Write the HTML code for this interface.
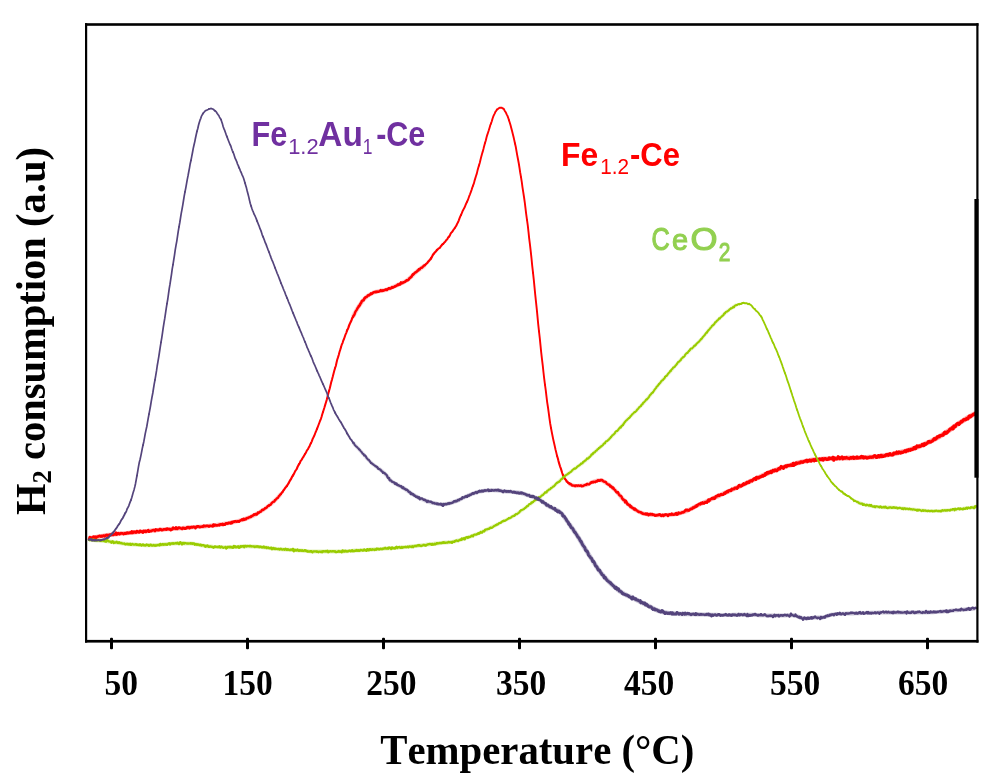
<!DOCTYPE html>
<html lang="en">
<head>
<meta charset="utf-8">
<title>H2-TPR profiles</title>
<style>
html,body{margin:0;padding:0;background:#fff;}
body{width:1000px;height:782px;overflow:hidden;}
svg{display:block;}
.ax{font-family:"Liberation Serif","DejaVu Serif",serif;font-weight:bold;fill:#000;font-kerning:none;}
.lb{font-family:"Liberation Sans","DejaVu Sans",sans-serif;font-weight:bold;}
.sb{font-weight:normal;}
</style>
</head>
<body>
<svg width="1000" height="782" viewBox="0 0 1000 782">
<rect x="0" y="0" width="1000" height="782" fill="#ffffff"/>
<g fill="none" stroke-linejoin="round" stroke-linecap="round">
<g stroke="#ff0000">
<polyline stroke-width="4.39" stroke-opacity="0.30" stroke-linecap="butt" points="89.0,538.5 91.0,538.1 93.0,537.7 95.0,537.3 97.0,536.9 99.0,536.5 101.0,536.2 103.0,535.8 105.0,535.5 107.0,535.2 109.0,534.9 111.0,534.7 113.0,534.4"/>
<polyline stroke-width="4.38" stroke-opacity="0.29" stroke-linecap="butt" points="113.0,534.4 115.0,534.2 117.0,534.0 119.0,533.8 121.0,533.6 123.0,533.4 125.0,533.2 127.0,533.1 129.0,532.9 131.0,532.7 133.0,532.5 135.0,532.3 137.0,532.1"/>
<polyline stroke-width="4.36" stroke-opacity="0.29" stroke-linecap="butt" points="137.0,532.1 139.0,531.9 141.0,531.7 143.0,531.5 145.0,531.3 147.0,531.1 149.0,530.9 151.0,530.7 153.0,530.5 155.0,530.3 157.0,530.1 159.0,529.9 161.0,529.7"/>
<polyline stroke-width="4.34" stroke-opacity="0.28" stroke-linecap="butt" points="161.0,529.7 163.0,529.6 165.0,529.4 167.0,529.2 169.0,529.1 171.0,528.9 173.0,528.8 175.0,528.6 177.0,528.4 179.0,528.3 181.0,528.1 183.0,528.0 185.0,527.8"/>
<polyline stroke-width="4.33" stroke-opacity="0.28" stroke-linecap="butt" points="185.0,527.8 187.0,527.7 189.0,527.5 191.0,527.4 193.0,527.2 195.0,527.1 197.0,526.9 199.0,526.8 201.0,526.6 203.0,526.5 205.0,526.3 207.0,526.1 209.0,525.9"/>
<polyline stroke-width="4.31" stroke-opacity="0.27" stroke-linecap="butt" points="209.0,525.9 211.0,525.7 213.0,525.5 215.0,525.3 217.0,525.0 219.0,524.7 221.0,524.4 223.0,524.1 225.0,523.7 227.0,523.4 229.0,523.0 231.0,522.6 233.0,522.2"/>
<polyline stroke-width="4.26" stroke-opacity="0.25" stroke-linecap="butt" points="233.0,522.2 235.0,521.8 237.0,521.3 239.0,520.8 241.0,520.3 243.0,519.7 245.0,519.1 247.0,518.3 249.0,517.5 251.0,516.7 253.0,515.7 255.0,514.8 257.0,513.7"/>
<polyline stroke-width="4.05" stroke-opacity="0.20" stroke-linecap="butt" points="257.0,513.7 259.0,512.6 261.0,511.3 263.0,510.0 265.0,508.6 267.0,507.1 269.0,505.6 271.0,503.9 273.0,502.2 275.0,500.3 277.0,498.3 279.0,496.1 281.0,493.7"/>
<polyline stroke-width="4.30" stroke-opacity="0.20" stroke-linecap="butt" points="353.0,316.8 355.0,312.8 357.0,309.2 359.0,306.0 361.0,303.1 363.0,300.4 365.0,298.2 367.0,296.5 369.0,295.0 371.0,293.8 373.0,292.8 375.0,292.0 377.0,291.5"/>
<polyline stroke-width="4.30" stroke-opacity="0.21" stroke-linecap="butt" points="377.0,291.5 379.0,291.1 381.0,290.8 383.0,290.5 385.0,290.1 387.0,289.5 389.0,288.7 391.0,287.9 393.0,287.0 395.0,286.1 397.0,285.2 399.0,284.3 401.0,283.4"/>
<polyline stroke-width="4.25" stroke-opacity="0.20" stroke-linecap="butt" points="401.0,283.4 403.0,282.5 405.0,281.5 407.0,280.3 409.0,278.8 411.0,276.9 413.0,274.9 415.0,273.0 417.0,271.3 419.0,269.8 421.0,268.3 423.0,266.8 425.0,265.0"/>
<polyline stroke-width="4.04" stroke-opacity="0.25" stroke-linecap="butt" points="569.0,483.4 571.0,484.7 573.0,485.4 575.0,485.9 577.0,485.9 579.0,485.8 581.0,485.7 583.0,485.5 585.0,485.3 587.0,484.7 589.0,483.8 591.0,482.7 593.0,481.9"/>
<polyline stroke-width="4.11" stroke-opacity="0.26" stroke-linecap="butt" points="593.0,481.9 595.0,481.2 597.0,480.6 599.0,480.2 601.0,480.2 603.0,481.0 605.0,482.2 607.0,483.5 609.0,484.9 611.0,486.4 613.0,488.2 615.0,490.1 617.0,492.1"/>
<polyline stroke-width="4.16" stroke-opacity="0.28" stroke-linecap="butt" points="617.0,492.1 619.0,494.4 621.0,496.8 623.0,499.2 625.0,501.3 627.0,503.2 629.0,505.0 631.0,506.8 633.0,508.3 635.0,509.6 637.0,510.7 639.0,511.8 641.0,512.7"/>
<polyline stroke-width="4.21" stroke-opacity="0.30" stroke-linecap="butt" points="641.0,512.7 643.0,513.5 645.0,514.0 647.0,514.2 649.0,514.5 651.0,514.7 653.0,514.9 655.0,515.0 657.0,515.1 659.0,515.2 661.0,515.2 663.0,515.2 665.0,515.1"/>
<polyline stroke-width="4.25" stroke-opacity="0.31" stroke-linecap="butt" points="665.0,515.1 667.0,515.0 669.0,514.8 671.0,514.7 673.0,514.5 675.0,514.2 677.0,513.8 679.0,513.4 681.0,512.8 683.0,512.2 685.0,511.6 687.0,510.9 689.0,509.9"/>
<polyline stroke-width="4.31" stroke-opacity="0.33" stroke-linecap="butt" points="689.0,509.9 691.0,508.9 693.0,507.8 695.0,506.6 697.0,505.6 699.0,504.6 701.0,503.8 703.0,502.9 705.0,502.0 707.0,501.2 709.0,500.3 711.0,499.4 713.0,498.5"/>
<polyline stroke-width="4.47" stroke-opacity="0.33" stroke-linecap="butt" points="713.0,498.5 715.0,497.6 717.0,496.6 719.0,495.7 721.0,494.7 723.0,493.8 725.0,492.9 727.0,492.0 729.0,491.1 731.0,490.2 733.0,489.3 735.0,488.4 737.0,487.5"/>
<polyline stroke-width="4.63" stroke-opacity="0.34" stroke-linecap="butt" points="737.0,487.5 739.0,486.6 741.0,485.7 743.0,484.7 745.0,483.8 747.0,482.8 749.0,481.9 751.0,480.9 753.0,480.0 755.0,479.0 757.0,478.1 759.0,477.2 761.0,476.2"/>
<polyline stroke-width="4.71" stroke-opacity="0.34" stroke-linecap="butt" points="761.0,476.2 763.0,475.3 765.0,474.4 767.0,473.5 769.0,472.7 771.0,471.8 773.0,471.1 775.0,470.3 777.0,469.6 779.0,468.8 781.0,468.1 783.0,467.5 785.0,466.8"/>
<polyline stroke-width="4.73" stroke-opacity="0.34" stroke-linecap="butt" points="785.0,466.8 787.0,466.1 789.0,465.5 791.0,464.9 793.0,464.2 795.0,463.7 797.0,463.1 799.0,462.6 801.0,462.1 803.0,461.7 805.0,461.3 807.0,460.9 809.0,460.5"/>
<polyline stroke-width="4.76" stroke-opacity="0.34" stroke-linecap="butt" points="809.0,460.5 811.0,460.2 813.0,459.9 815.0,459.7 817.0,459.5 819.0,459.3 821.0,459.2 823.0,459.0 825.0,458.9 827.0,458.8 829.0,458.7 831.0,458.6 833.0,458.5"/>
<polyline stroke-width="4.78" stroke-opacity="0.34" stroke-linecap="butt" points="833.0,458.5 835.0,458.4 837.0,458.3 839.0,458.3 841.0,458.2 843.0,458.2 845.0,458.1 847.0,458.0 849.0,458.0 851.0,457.9 853.0,457.8 855.0,457.8 857.0,457.7"/>
<polyline stroke-width="4.80" stroke-opacity="0.34" stroke-linecap="butt" points="857.0,457.7 859.0,457.6 861.0,457.6 863.0,457.5 865.0,457.4 867.0,457.3 869.0,457.2 871.0,457.1 873.0,457.0 875.0,456.8 877.0,456.6 879.0,456.4 881.0,456.1"/>
<polyline stroke-width="4.82" stroke-opacity="0.34" stroke-linecap="butt" points="881.0,456.1 883.0,455.7 885.0,455.4 887.0,455.0 889.0,454.7 891.0,454.4 893.0,454.0 895.0,453.6 897.0,453.2 899.0,452.7 901.0,452.2 903.0,451.7 905.0,451.2"/>
<polyline stroke-width="4.85" stroke-opacity="0.34" stroke-linecap="butt" points="905.0,451.2 907.0,450.6 909.0,450.0 911.0,449.4 913.0,448.7 915.0,448.0 917.0,447.3 919.0,446.5 921.0,445.7 923.0,444.8 925.0,443.9 927.0,443.0 929.0,442.1"/>
<polyline stroke-width="4.87" stroke-opacity="0.34" stroke-linecap="butt" points="929.0,442.1 931.0,441.1 933.0,440.1 935.0,439.0 937.0,437.9 939.0,436.8 941.0,435.6 943.0,434.4 945.0,433.2 947.0,431.8 949.0,430.4 951.0,429.0 953.0,427.5"/>
<polyline stroke-width="4.89" stroke-opacity="0.34" stroke-linecap="butt" points="953.0,427.5 955.0,426.1 957.0,424.6 959.0,423.3 961.0,422.0 963.0,420.7 965.0,419.4 967.0,418.2 969.0,417.0 971.0,415.8 973.0,414.7 975.0,413.6"/>
<polyline stroke-width="2.70" points="89.0,539.5 89.8,537.1 90.5,538.4 91.2,537.7 92.0,537.7 92.8,537.6 93.5,536.6 94.2,537.3 95.0,536.9"/>
<polyline stroke-width="2.69" points="95.0,536.9 95.8,538.8 96.5,537.1 97.2,536.7 98.0,536.6 98.8,536.2 99.5,535.9 100.2,536.1 101.0,536.4"/>
<polyline stroke-width="2.69" points="101.0,536.4 101.8,535.9 102.5,536.4 103.2,535.7 104.0,535.7 104.8,536.3 105.5,535.7 106.2,535.1 107.0,535.1"/>
<polyline stroke-width="2.69" points="107.0,535.1 107.8,535.4 108.5,536.0 109.2,534.8 110.0,534.7 110.8,535.2 111.5,534.2 112.2,534.4 113.0,534.9"/>
<polyline stroke-width="2.68" points="113.0,534.9 113.8,534.6 114.5,534.3 115.2,534.5 116.0,532.7 116.8,534.5 117.5,533.5 118.2,533.1 119.0,533.9"/>
<polyline stroke-width="2.68" points="119.0,533.9 119.8,534.1 120.5,533.4 121.2,533.1 122.0,533.5 122.8,533.4 123.5,534.1 124.2,533.7 125.0,533.3"/>
<polyline stroke-width="2.67" points="125.0,533.3 125.8,533.7 126.5,533.0 127.2,532.6 128.0,533.3 128.8,533.2 129.5,532.7 130.2,532.4 131.0,532.8"/>
<polyline stroke-width="2.67" points="131.0,532.8 131.8,531.4 132.5,532.9 133.2,532.7 134.0,531.6 134.8,532.4 135.5,531.8 136.2,532.6 137.0,531.1"/>
<polyline stroke-width="2.67" points="137.0,531.1 137.8,531.6 138.5,532.3 139.2,532.4 140.0,530.8 140.8,531.5 141.5,531.8 142.2,531.3 143.0,532.3"/>
<polyline stroke-width="2.66" points="143.0,532.3 143.8,530.8 144.5,531.5 145.2,530.8 146.0,531.9 146.8,531.1 147.5,530.9 148.2,530.1 149.0,531.7"/>
<polyline stroke-width="2.66" points="149.0,531.7 149.8,531.2 150.5,531.1 151.2,531.2 152.0,530.7 152.8,530.2 153.5,530.0 154.2,530.0 155.0,530.9"/>
<polyline stroke-width="2.65" points="155.0,530.9 155.8,529.5 156.5,529.9 157.2,529.9 158.0,530.1 158.8,530.2 159.5,529.3 160.2,529.0 161.0,529.7"/>
<polyline stroke-width="2.65" points="161.0,529.7 161.8,530.2 162.5,530.0 163.2,529.6 164.0,529.3 164.8,529.5 165.5,529.2 166.2,529.7 167.0,528.8"/>
<polyline stroke-width="2.65" points="167.0,528.8 167.8,529.2 168.5,529.1 169.2,529.3 170.0,529.1 170.8,530.1 171.5,529.6 172.2,529.5 173.0,527.8"/>
<polyline stroke-width="2.64" points="173.0,527.8 173.8,528.5 174.5,528.3 175.2,528.8 176.0,527.4 176.8,529.0 177.5,528.9 178.2,527.7 179.0,527.8"/>
<polyline stroke-width="2.64" points="179.0,527.8 179.8,527.9 180.5,528.2 181.2,528.4 182.0,529.0 182.8,527.9 183.5,528.3 184.2,528.0 185.0,528.6"/>
<polyline stroke-width="2.63" points="185.0,528.6 185.8,528.1 186.5,528.3 187.2,527.1 188.0,527.5 188.8,527.2 189.5,528.2 190.2,527.7 191.0,527.2"/>
<polyline stroke-width="2.63" points="191.0,527.2 191.8,527.1 192.5,527.5 193.2,526.9 194.0,526.7 194.8,527.3 195.5,528.2 196.2,526.9 197.0,526.7"/>
<polyline stroke-width="2.63" points="197.0,526.7 197.8,526.3 198.5,526.2 199.2,527.0 200.0,527.1 200.8,526.7 201.5,526.8 202.2,526.6 203.0,526.5"/>
<polyline stroke-width="2.62" points="203.0,526.5 203.8,525.7 204.5,526.1 205.2,526.3 206.0,525.9 206.8,525.9 207.5,525.7 208.2,525.9 209.0,526.3"/>
<polyline stroke-width="2.62" points="209.0,526.3 209.8,525.7 210.5,525.7 211.2,526.1 212.0,525.9 212.8,526.3 213.5,524.5 214.2,525.7 215.0,525.0"/>
<polyline stroke-width="2.61" points="215.0,525.0 215.8,525.2 216.5,525.4 217.2,525.4 218.0,525.3 218.8,524.8 219.5,525.3 220.2,524.4 221.0,524.3"/>
<polyline stroke-width="2.61" points="221.0,524.3 221.8,524.6 222.5,523.9 223.2,525.0 224.0,524.4 224.8,524.7 225.5,523.6 226.2,523.3 227.0,523.4"/>
<polyline stroke-width="2.61" points="227.0,523.4 227.8,523.6 228.5,522.8 229.2,523.1 230.0,522.8 230.8,523.4 231.5,522.2 232.2,522.8 233.0,521.9"/>
<polyline stroke-width="2.60" points="233.0,521.9 233.8,521.6 234.5,521.6 235.2,521.2 236.0,521.6 236.8,521.8 237.5,521.3 238.2,521.3 239.0,521.5"/>
<polyline stroke-width="2.58" points="239.0,521.5 239.8,520.7 240.5,520.5 241.2,520.1 242.0,519.3 242.8,520.1 243.5,518.8 244.2,519.6 245.0,519.0"/>
<polyline stroke-width="2.53" points="245.0,519.0 245.8,519.3 246.5,518.5 247.2,517.9 248.0,518.1 248.8,517.4 249.5,517.2 250.2,517.0 251.0,516.6"/>
<polyline stroke-width="2.48" points="251.0,516.6 251.8,516.2 252.5,515.6 253.2,515.5 254.0,514.4 254.8,514.8 255.5,514.0 256.2,514.5 257.0,514.2"/>
<polyline stroke-width="2.43" points="257.0,514.2 257.8,512.6 258.5,512.9 259.2,512.4 260.0,511.6 260.8,511.7 261.5,510.8 262.2,509.8 263.0,509.9"/>
<polyline stroke-width="2.38" points="263.0,509.9 263.8,509.4 264.5,509.0 265.2,508.0 266.0,508.0 266.8,507.5 267.5,506.3 268.2,505.9 269.0,505.5"/>
<polyline stroke-width="2.33" points="269.0,505.5 269.8,504.8 270.5,504.9 271.2,503.8 272.0,502.7 272.8,502.1 273.5,501.7 274.2,501.7 275.0,500.2"/>
<polyline stroke-width="2.27" points="275.0,500.2 275.8,499.6 276.5,498.9 277.2,498.0 278.0,497.8 278.8,496.2 279.5,495.7 280.2,494.6 281.0,493.9"/>
<polyline stroke-width="2.22" points="281.0,493.9 281.8,492.4 282.5,492.3 283.2,490.8 284.0,489.8 284.8,488.5 285.5,487.6 286.2,486.8 287.0,485.8"/>
<polyline stroke-width="2.17" points="287.0,485.8 287.8,484.5 288.5,483.4 289.2,482.0 290.0,480.5 290.8,479.4 291.5,478.0 292.2,476.6 293.0,475.4"/>
<polyline stroke-width="2.12" points="293.0,475.4 293.8,474.2 294.5,472.6 295.2,471.1 296.0,470.0 296.8,468.8 297.5,467.0 298.2,465.6 299.0,464.2"/>
<polyline stroke-width="2.07" points="299.0,464.2 299.8,463.1 300.5,461.2 301.2,460.3 302.0,459.2 302.8,457.6 303.5,456.8 304.2,455.4 305.0,454.0"/>
<polyline stroke-width="2.02" points="305.0,454.0 305.8,452.9 306.5,451.3 307.2,450.1 308.0,449.2 308.8,447.3 309.5,446.3 310.2,444.5 311.0,443.1"/>
<polyline stroke-width="2.00" points="311.0,443.1 311.8,441.3 312.5,439.3 313.2,437.9 314.0,436.3 314.8,434.3 315.5,432.5 316.2,430.9 317.0,428.9"/>
<polyline stroke-width="2.00" points="317.0,428.9 317.8,426.8 318.5,425.0 319.2,423.2 320.0,421.0 320.8,419.1 321.5,417.0 322.2,414.5 323.0,412.0"/>
<polyline stroke-width="2.00" points="323.0,412.0 323.8,409.5 324.5,407.3 325.2,404.9 326.0,402.2 326.8,399.6 327.5,396.7 328.2,394.1 329.0,391.1"/>
<polyline stroke-width="2.00" points="329.0,391.1 329.8,388.3 330.5,385.2 331.2,382.3 332.0,379.6 332.8,376.6 333.5,373.7 334.2,371.1 335.0,368.2"/>
<polyline stroke-width="2.00" points="335.0,368.2 335.8,366.0 336.5,362.8 337.2,359.8 338.0,357.4 338.8,354.7 339.5,352.0 340.2,349.9 341.0,347.2"/>
<polyline stroke-width="2.00" points="341.0,347.2 341.8,344.5 342.5,343.1 343.2,340.7 344.0,339.0 344.8,336.6 345.5,334.5 346.2,333.1 347.0,330.6"/>
<polyline stroke-width="2.20" points="347.0,330.6 347.8,329.0 348.5,327.4 349.2,325.2 350.0,323.4 350.8,321.7 351.5,320.2 352.2,318.1 353.0,316.9"/>
<polyline stroke-width="2.44" points="353.0,316.9 353.8,315.4 354.5,314.5 355.2,312.2 356.0,310.7 356.8,309.8 357.5,308.2 358.2,307.2 359.0,306.0"/>
<polyline stroke-width="2.60" points="359.0,306.0 359.8,305.3 360.5,303.6 361.2,302.7 362.0,300.8 362.8,300.4 363.5,300.4 364.2,298.7 365.0,297.9"/>
<polyline stroke-width="2.60" points="365.0,297.9 365.8,297.0 366.5,297.0 367.2,296.3 368.0,295.3 368.8,295.4 369.5,294.8 370.2,294.5 371.0,293.6"/>
<polyline stroke-width="2.60" points="371.0,293.6 371.8,294.0 372.5,293.2 373.2,292.6 374.0,292.2 374.8,292.0 375.5,292.2 376.2,291.6 377.0,291.9"/>
<polyline stroke-width="2.60" points="377.0,291.9 377.8,291.6 378.5,291.7 379.2,291.4 380.0,291.0 380.8,290.2 381.5,290.9 382.2,290.9 383.0,290.5"/>
<polyline stroke-width="2.60" points="383.0,290.5 383.8,290.5 384.5,290.0 385.2,289.9 386.0,289.4 386.8,290.0 387.5,289.3 388.2,288.8 389.0,288.3"/>
<polyline stroke-width="2.60" points="389.0,288.3 389.8,288.4 390.5,288.6 391.2,288.0 392.0,287.2 392.8,287.6 393.5,287.3 394.2,286.8 395.0,286.4"/>
<polyline stroke-width="2.60" points="395.0,286.4 395.8,286.1 396.5,285.6 397.2,285.3 398.0,284.4 398.8,284.9 399.5,284.1 400.2,284.4 401.0,282.7"/>
<polyline stroke-width="2.60" points="401.0,282.7 401.8,283.3 402.5,283.1 403.2,282.3 404.0,282.2 404.8,281.9 405.5,281.4 406.2,280.6 407.0,280.3"/>
<polyline stroke-width="2.60" points="407.0,280.3 407.8,280.2 408.5,279.7 409.2,278.6 410.0,277.9 410.8,277.2 411.5,276.8 412.2,275.3 413.0,274.5"/>
<polyline stroke-width="2.50" points="413.0,274.5 413.8,274.2 414.5,273.1 415.2,272.6 416.0,272.1 416.8,271.6 417.5,270.6 418.2,270.6 419.0,269.2"/>
<polyline stroke-width="2.40" points="419.0,269.2 419.8,269.4 420.5,268.2 421.2,267.8 422.0,267.7 422.8,266.8 423.5,266.1 424.2,265.6 425.0,265.1"/>
<polyline stroke-width="2.30" points="425.0,265.1 425.8,264.3 426.5,263.6 427.2,263.1 428.0,261.9 428.8,261.1 429.5,260.2 430.2,259.5 431.0,258.3"/>
<polyline stroke-width="2.20" points="431.0,258.3 431.8,257.1 432.5,255.6 433.2,254.4 434.0,253.6 434.8,252.4 435.5,251.8 436.2,251.0 437.0,249.9"/>
<polyline stroke-width="2.10" points="437.0,249.9 437.8,249.3 438.5,248.6 439.2,248.2 440.0,247.6 440.8,246.3 441.5,245.6 442.2,244.4 443.0,244.1"/>
<polyline stroke-width="2.06" points="443.0,244.1 443.8,243.3 444.5,242.2 445.2,241.8 446.0,240.4 446.8,239.7 447.5,238.8 448.2,237.4 449.0,236.7"/>
<polyline stroke-width="2.02" points="449.0,236.7 449.8,235.6 450.5,233.9 451.2,232.8 452.0,232.1 452.8,230.9 453.5,229.7 454.2,228.8 455.0,227.7"/>
<polyline stroke-width="1.98" points="455.0,227.7 455.8,226.5 456.5,225.4 457.2,223.7 458.0,222.3 458.8,220.3 459.5,218.3 460.2,216.6 461.0,215.0"/>
<polyline stroke-width="1.94" points="461.0,215.0 461.8,213.2 462.5,211.3 463.2,210.1 464.0,208.4 464.8,207.0 465.5,205.1 466.2,203.5 467.0,201.8"/>
<polyline stroke-width="1.90" points="467.0,201.8 467.8,200.3 468.5,198.3 469.2,196.2 470.0,194.3 470.8,192.1 471.5,190.1 472.2,187.9 473.0,185.7"/>
<polyline stroke-width="1.90" points="473.0,185.7 473.8,183.7 474.5,180.9 475.2,178.6 476.0,176.0 476.8,173.6 477.5,170.6 478.2,168.0 479.0,165.4"/>
<polyline stroke-width="1.90" points="479.0,165.4 479.8,162.8 480.5,159.8 481.2,156.9 482.0,154.0 482.8,151.4 483.5,148.8 484.2,145.9 485.0,143.1"/>
<polyline stroke-width="1.90" points="485.0,143.1 485.8,140.4 486.5,137.6 487.2,135.1 488.0,132.7 488.8,130.3 489.5,127.9 490.2,125.4 491.0,123.5"/>
<polyline stroke-width="1.90" points="491.0,123.5 491.8,121.3 492.5,118.7 493.2,116.7 494.0,114.9 494.8,113.4 495.5,111.6 496.2,110.8 497.0,109.5"/>
<polyline stroke-width="1.90" points="497.0,109.5 497.8,109.1 498.5,108.4 499.2,107.9 500.0,107.7 500.8,107.7 501.5,107.6 502.2,108.1 503.0,108.5"/>
<polyline stroke-width="1.90" points="503.0,108.5 503.8,108.9 504.5,110.4 505.2,111.5 506.0,112.8 506.8,114.6 507.5,115.9 508.2,117.8 509.0,120.3"/>
<polyline stroke-width="1.90" points="509.0,120.3 509.8,122.7 510.5,125.0 511.2,127.7 512.0,130.8 512.8,134.0 513.5,136.7 514.2,139.9 515.0,143.5"/>
<polyline stroke-width="1.90" points="515.0,143.5 515.8,147.0 516.5,151.1 517.2,155.1 518.0,159.2 518.8,163.5 519.5,167.8 520.2,172.5 521.0,177.1"/>
<polyline stroke-width="1.90" points="521.0,177.1 521.8,182.2 522.5,187.3 523.2,191.9 524.0,197.0 524.8,202.6 525.5,208.3 526.2,214.1 527.0,219.9"/>
<polyline stroke-width="1.90" points="527.0,219.9 527.8,225.7 528.5,231.9 529.2,238.6 530.0,244.8 530.8,251.8 531.5,258.4 532.2,265.6 533.0,272.7"/>
<polyline stroke-width="1.90" points="533.0,272.7 533.8,279.9 534.5,287.2 535.2,294.3 536.0,301.9 536.8,309.3 537.5,316.7 538.2,324.2 539.0,331.3"/>
<polyline stroke-width="1.90" points="539.0,331.3 539.8,338.4 540.5,345.4 541.2,352.4 542.0,359.4 542.8,365.8 543.5,372.5 544.2,378.7 545.0,384.8"/>
<polyline stroke-width="1.90" points="545.0,384.8 545.8,390.6 546.5,396.6 547.2,402.3 548.0,407.5 548.8,413.3 549.5,418.7 550.2,423.5 551.0,428.0"/>
<polyline stroke-width="1.90" points="551.0,428.0 551.8,432.2 552.5,435.8 553.2,439.2 554.0,442.8 554.8,446.2 555.5,449.5 556.2,452.3 557.0,455.7"/>
<polyline stroke-width="2.06" points="557.0,455.7 557.8,458.3 558.5,461.1 559.2,463.6 560.0,466.3 560.8,468.4 561.5,470.6 562.2,473.0 563.0,475.1"/>
<polyline stroke-width="2.30" points="563.0,475.1 563.8,476.2 564.5,478.2 565.2,479.1 566.0,480.1 566.8,481.7 567.5,481.7 568.2,483.1 569.0,483.2"/>
<polyline stroke-width="2.32" points="569.0,483.2 569.8,484.1 570.5,483.9 571.2,484.5 572.0,485.5 572.8,485.4 573.5,485.6 574.2,485.6 575.0,486.0"/>
<polyline stroke-width="2.34" points="575.0,486.0 575.8,485.3 576.5,485.4 577.2,485.8 578.0,485.5 578.8,485.5 579.5,485.8 580.2,485.7 581.0,485.6"/>
<polyline stroke-width="2.35" points="581.0,485.6 581.8,486.3 582.5,486.0 583.2,486.0 584.0,485.4 584.8,485.1 585.5,484.6 586.2,484.9 587.0,483.9"/>
<polyline stroke-width="2.37" points="587.0,483.9 587.8,484.2 588.5,484.4 589.2,484.3 590.0,483.6 590.8,482.5 591.5,482.7 592.2,481.9 593.0,482.3"/>
<polyline stroke-width="2.39" points="593.0,482.3 593.8,481.6 594.5,481.8 595.2,482.2 596.0,481.3 596.8,481.6 597.5,480.5 598.2,480.1 599.0,480.7"/>
<polyline stroke-width="2.40" points="599.0,480.7 599.8,480.9 600.5,479.9 601.2,480.3 602.0,479.9 602.8,480.7 603.5,481.6 604.2,481.6 605.0,481.9"/>
<polyline stroke-width="2.42" points="605.0,481.9 605.8,482.0 606.5,483.3 607.2,484.0 608.0,484.4 608.8,484.8 609.5,484.7 610.2,486.6 611.0,486.4"/>
<polyline stroke-width="2.43" points="611.0,486.4 611.8,487.0 612.5,488.1 613.2,487.5 614.0,489.1 614.8,489.8 615.5,490.8 616.2,492.0 617.0,492.3"/>
<polyline stroke-width="2.44" points="617.0,492.3 617.8,492.1 618.5,493.6 619.2,494.8 620.0,495.6 620.8,495.9 621.5,496.6 622.2,498.5 623.0,499.3"/>
<polyline stroke-width="2.45" points="623.0,499.3 623.8,500.0 624.5,500.0 625.2,502.4 626.0,500.9 626.8,502.8 627.5,504.6 628.2,504.3 629.0,505.2"/>
<polyline stroke-width="2.46" points="629.0,505.2 629.8,505.1 630.5,507.0 631.2,506.4 632.0,507.7 632.8,508.2 633.5,508.1 634.2,509.6 635.0,508.9"/>
<polyline stroke-width="2.48" points="635.0,508.9 635.8,509.7 636.5,510.4 637.2,510.7 638.0,511.5 638.8,512.1 639.5,511.9 640.2,512.1 641.0,512.5"/>
<polyline stroke-width="2.49" points="641.0,512.5 641.8,512.9 642.5,513.7 643.2,513.5 644.0,514.0 644.8,513.9 645.5,513.6 646.2,514.6 647.0,513.7"/>
<polyline stroke-width="2.50" points="647.0,513.7 647.8,514.3 648.5,515.2 649.2,514.0 650.0,514.6 650.8,513.9 651.5,514.5 652.2,514.1 653.0,514.7"/>
<polyline stroke-width="2.51" points="653.0,514.7 653.8,514.7 654.5,515.1 655.2,515.8 656.0,515.2 656.8,515.5 657.5,515.1 658.2,515.1 659.0,514.8"/>
<polyline stroke-width="2.52" points="659.0,514.8 659.8,514.3 660.5,515.2 661.2,516.0 662.0,515.4 662.8,514.9 663.5,516.0 664.2,514.9 665.0,514.8"/>
<polyline stroke-width="2.54" points="665.0,514.8 665.8,514.4 666.5,514.5 667.2,514.8 668.0,515.9 668.8,514.7 669.5,514.3 670.2,514.4 671.0,514.5"/>
<polyline stroke-width="2.55" points="671.0,514.5 671.8,513.7 672.5,514.6 673.2,514.8 674.0,514.5 674.8,514.6 675.5,513.5 676.2,513.1 677.0,514.5"/>
<polyline stroke-width="2.56" points="677.0,514.5 677.8,514.3 678.5,512.7 679.2,513.4 680.0,513.1 680.8,513.2 681.5,512.8 682.2,512.2 683.0,512.3"/>
<polyline stroke-width="2.57" points="683.0,512.3 683.8,512.1 684.5,511.7 685.2,510.5 686.0,509.7 686.8,510.5 687.5,509.8 688.2,510.4 689.0,510.3"/>
<polyline stroke-width="2.58" points="689.0,510.3 689.8,509.7 690.5,509.0 691.2,508.8 692.0,509.0 692.8,507.5 693.5,508.0 694.2,507.4 695.0,506.8"/>
<polyline stroke-width="2.60" points="695.0,506.8 695.8,507.0 696.5,505.4 697.2,506.0 698.0,504.6 698.8,504.3 699.5,503.8 700.2,504.3 701.0,503.2"/>
<polyline stroke-width="2.63" points="701.0,503.2 701.8,503.5 702.5,502.5 703.2,503.4 704.0,503.5 704.8,502.3 705.5,502.7 706.2,501.8 707.0,502.4"/>
<polyline stroke-width="2.67" points="707.0,502.4 707.8,500.9 708.5,499.7 709.2,501.0 710.0,499.8 710.8,499.0 711.5,498.8 712.2,498.0 713.0,498.4"/>
<polyline stroke-width="2.71" points="713.0,498.4 713.8,497.6 714.5,498.6 715.2,497.8 716.0,496.2 716.8,495.9 717.5,496.1 718.2,495.0 719.0,495.6"/>
<polyline stroke-width="2.75" points="719.0,495.6 719.8,495.3 720.5,494.6 721.2,494.3 722.0,494.6 722.8,494.7 723.5,494.4 724.2,493.2 725.0,493.4"/>
<polyline stroke-width="2.79" points="725.0,493.4 725.8,492.1 726.5,492.4 727.2,491.3 728.0,491.9 728.8,490.5 729.5,490.3 730.2,490.5 731.0,490.5"/>
<polyline stroke-width="2.83" points="731.0,490.5 731.8,489.0 732.5,489.2 733.2,489.2 734.0,489.0 734.8,488.0 735.5,488.2 736.2,487.7 737.0,488.3"/>
<polyline stroke-width="2.87" points="737.0,488.3 737.8,487.5 738.5,486.1 739.2,485.2 740.0,486.2 740.8,486.4 741.5,485.5 742.2,485.6 743.0,484.5"/>
<polyline stroke-width="2.91" points="743.0,484.5 743.8,483.6 744.5,484.4 745.2,483.7 746.0,483.7 746.8,482.2 747.5,482.7 748.2,481.9 749.0,482.3"/>
<polyline stroke-width="2.95" points="749.0,482.3 749.8,481.2 750.5,480.8 751.2,480.5 752.0,481.1 752.8,480.1 753.5,479.3 754.2,478.8 755.0,478.4"/>
<polyline stroke-width="2.99" points="755.0,478.4 755.8,479.5 756.5,477.3 757.2,477.5 758.0,478.0 758.8,477.9 759.5,476.9 760.2,477.0 761.0,476.7"/>
<polyline stroke-width="3.00" points="761.0,476.7 761.8,476.4 762.5,475.6 763.2,476.1 764.0,475.0 764.8,475.4 765.5,473.6 766.2,474.4 767.0,472.8"/>
<polyline stroke-width="3.01" points="767.0,472.8 767.8,472.4 768.5,473.2 769.2,472.1 770.0,472.5 770.8,471.4 771.5,472.6 772.2,471.4 773.0,470.4"/>
<polyline stroke-width="3.01" points="773.0,470.4 773.8,470.9 774.5,471.0 775.2,469.8 776.0,470.2 776.8,470.8 777.5,469.9 778.2,469.1 779.0,468.5"/>
<polyline stroke-width="3.02" points="779.0,468.5 779.8,468.9 780.5,467.5 781.2,466.4 782.0,467.4 782.8,467.0 783.5,468.3 784.2,467.1 785.0,466.3"/>
<polyline stroke-width="3.03" points="785.0,466.3 785.8,465.9 786.5,466.6 787.2,465.6 788.0,465.5 788.8,465.6 789.5,465.4 790.2,465.2 791.0,465.0"/>
<polyline stroke-width="3.03" points="791.0,465.0 791.8,465.4 792.5,465.4 793.2,463.3 794.0,465.4 794.8,463.8 795.5,464.3 796.2,462.9 797.0,463.3"/>
<polyline stroke-width="3.04" points="797.0,463.3 797.8,463.1 798.5,462.8 799.2,463.1 800.0,462.8 800.8,461.7 801.5,462.0 802.2,462.3 803.0,462.1"/>
<polyline stroke-width="3.04" points="803.0,462.1 803.8,461.4 804.5,461.3 805.2,461.2 806.0,460.5 806.8,460.3 807.5,461.7 808.2,460.5 809.0,460.6"/>
<polyline stroke-width="3.05" points="809.0,460.6 809.8,460.0 810.5,461.1 811.2,461.2 812.0,460.0 812.8,460.3 813.5,459.5 814.2,460.8 815.0,460.2"/>
<polyline stroke-width="3.05" points="815.0,460.2 815.8,459.2 816.5,460.3 817.2,459.7 818.0,459.7 818.8,459.6 819.5,458.9 820.2,459.0 821.0,459.6"/>
<polyline stroke-width="3.06" points="821.0,459.6 821.8,459.1 822.5,458.6 823.2,460.2 824.0,458.9 824.8,458.6 825.5,458.5 826.2,459.3 827.0,459.4"/>
<polyline stroke-width="3.06" points="827.0,459.4 827.8,458.9 828.5,459.2 829.2,457.8 830.0,458.4 830.8,458.4 831.5,458.6 832.2,458.8 833.0,457.3"/>
<polyline stroke-width="3.07" points="833.0,457.3 833.8,460.3 834.5,458.0 835.2,458.6 836.0,458.9 836.8,458.9 837.5,458.5 838.2,456.6 839.0,457.7"/>
<polyline stroke-width="3.08" points="839.0,457.7 839.8,458.7 840.5,457.7 841.2,457.6 842.0,456.9 842.8,458.9 843.5,458.5 844.2,457.6 845.0,458.0"/>
<polyline stroke-width="3.08" points="845.0,458.0 845.8,458.0 846.5,457.4 847.2,457.9 848.0,458.2 848.8,458.3 849.5,458.7 850.2,458.0 851.0,457.7"/>
<polyline stroke-width="3.09" points="851.0,457.7 851.8,458.1 852.5,457.5 853.2,457.1 854.0,458.5 854.8,457.6 855.5,457.8 856.2,458.1 857.0,457.1"/>
<polyline stroke-width="3.09" points="857.0,457.1 857.8,458.1 858.5,457.9 859.2,457.6 860.0,457.8 860.8,457.2 861.5,456.3 862.2,457.4 863.0,457.0"/>
<polyline stroke-width="3.10" points="863.0,457.0 863.8,458.0 864.5,457.6 865.2,457.1 866.0,457.4 866.8,458.1 867.5,458.0 868.2,457.5 869.0,457.5"/>
<polyline stroke-width="3.10" points="869.0,457.5 869.8,457.0 870.5,457.1 871.2,457.4 872.0,457.0 872.8,457.2 873.5,456.3 874.2,455.9 875.0,455.9"/>
<polyline stroke-width="3.11" points="875.0,455.9 875.8,456.5 876.5,457.5 877.2,457.3 878.0,455.9 878.8,455.5 879.5,456.8 880.2,456.5 881.0,455.3"/>
<polyline stroke-width="3.11" points="881.0,455.3 881.8,456.6 882.5,455.9 883.2,456.5 884.0,455.8 884.8,456.0 885.5,455.5 886.2,454.6 887.0,454.9"/>
<polyline stroke-width="3.12" points="887.0,454.9 887.8,454.5 888.5,455.3 889.2,454.1 890.0,453.7 890.8,454.8 891.5,455.0 892.2,455.0 893.0,454.7"/>
<polyline stroke-width="3.13" points="893.0,454.7 893.8,453.0 894.5,453.3 895.2,453.3 896.0,453.4 896.8,452.0 897.5,453.1 898.2,453.1 899.0,452.2"/>
<polyline stroke-width="3.13" points="899.0,452.2 899.8,452.6 900.5,453.1 901.2,452.2 902.0,452.6 902.8,452.4 903.5,451.8 904.2,451.6 905.0,451.0"/>
<polyline stroke-width="3.14" points="905.0,451.0 905.8,451.7 906.5,450.5 907.2,450.1 908.0,450.7 908.8,449.7 909.5,450.1 910.2,450.3 911.0,449.5"/>
<polyline stroke-width="3.14" points="911.0,449.5 911.8,449.2 912.5,449.5 913.2,449.1 914.0,447.5 914.8,447.4 915.5,448.6 916.2,447.8 917.0,446.1"/>
<polyline stroke-width="3.15" points="917.0,446.1 917.8,446.2 918.5,446.7 919.2,445.8 920.0,446.4 920.8,445.8 921.5,445.8 922.2,444.5 923.0,445.2"/>
<polyline stroke-width="3.15" points="923.0,445.2 923.8,445.7 924.5,443.7 925.2,444.6 926.0,444.1 926.8,443.5 927.5,442.8 928.2,441.8 929.0,441.6"/>
<polyline stroke-width="3.16" points="929.0,441.6 929.8,442.2 930.5,442.0 931.2,441.7 932.0,441.2 932.8,440.8 933.5,439.6 934.2,438.7 935.0,439.2"/>
<polyline stroke-width="3.16" points="935.0,439.2 935.8,438.9 936.5,438.3 937.2,436.9 938.0,437.1 938.8,436.1 939.5,436.6 940.2,435.5 941.0,435.5"/>
<polyline stroke-width="3.17" points="941.0,435.5 941.8,435.4 942.5,434.8 943.2,435.1 944.0,433.2 944.8,432.1 945.5,433.4 946.2,433.2 947.0,432.7"/>
<polyline stroke-width="3.18" points="947.0,432.7 947.8,431.5 948.5,431.1 949.2,430.4 950.0,429.0 950.8,428.9 951.5,428.9 952.2,427.7 953.0,428.7"/>
<polyline stroke-width="3.18" points="953.0,428.7 953.8,426.1 954.5,426.2 955.2,426.6 956.0,425.0 956.8,424.1 957.5,423.5 958.2,423.3 959.0,424.2"/>
<polyline stroke-width="3.19" points="959.0,424.2 959.8,423.0 960.5,422.6 961.2,421.5 962.0,421.8 962.8,420.9 963.5,419.8 964.2,419.7 965.0,419.6"/>
<polyline stroke-width="3.19" points="965.0,419.6 965.8,419.7 966.5,418.5 967.2,418.4 968.0,418.8 968.8,416.7 969.5,416.0 970.2,416.9 971.0,416.1"/>
<polyline stroke-width="3.20" points="971.0,416.1 971.8,415.4 972.5,415.1 973.2,414.4 974.0,414.4 974.8,413.5 975.5,413.8 976.0,412.3"/>
</g>
<g stroke="#99cc00">
<polyline stroke-width="4.00" stroke-opacity="0.27" stroke-linecap="butt" points="89.0,539.8 91.0,539.9 93.0,540.0 95.0,540.2 97.0,540.4 99.0,540.5 101.0,540.7 103.0,540.9 105.0,541.1 107.0,541.3 109.0,541.5 111.0,541.7 113.0,542.0"/>
<polyline stroke-width="4.00" stroke-opacity="0.27" stroke-linecap="butt" points="113.0,542.0 115.0,542.3 117.0,542.6 119.0,543.0 121.0,543.3 123.0,543.6 125.0,543.8 127.0,544.1 129.0,544.2 131.0,544.3 133.0,544.5 135.0,544.6 137.0,544.7"/>
<polyline stroke-width="4.00" stroke-opacity="0.27" stroke-linecap="butt" points="137.0,544.7 139.0,544.9 141.0,545.0 143.0,545.1 145.0,545.2 147.0,545.2 149.0,545.3 151.0,545.3 153.0,545.3 155.0,545.3 157.0,545.1 159.0,545.0 161.0,544.8"/>
<polyline stroke-width="4.00" stroke-opacity="0.27" stroke-linecap="butt" points="161.0,544.8 163.0,544.6 165.0,544.3 167.0,544.1 169.0,543.9 171.0,543.7 173.0,543.5 175.0,543.4 177.0,543.3 179.0,543.3 181.0,543.3 183.0,543.4 185.0,543.4"/>
<polyline stroke-width="4.00" stroke-opacity="0.27" stroke-linecap="butt" points="185.0,543.4 187.0,543.5 189.0,543.6 191.0,543.6 193.0,543.8 195.0,544.1 197.0,544.4 199.0,544.8 201.0,545.2 203.0,545.6 205.0,545.9 207.0,546.2 209.0,546.5"/>
<polyline stroke-width="4.00" stroke-opacity="0.27" stroke-linecap="butt" points="209.0,546.5 211.0,546.6 213.0,546.8 215.0,546.9 217.0,547.0 219.0,547.1 221.0,547.2 223.0,547.2 225.0,547.3 227.0,547.3 229.0,547.3 231.0,547.2 233.0,547.1"/>
<polyline stroke-width="4.00" stroke-opacity="0.27" stroke-linecap="butt" points="233.0,547.1 235.0,547.0 237.0,546.9 239.0,546.7 241.0,546.6 243.0,546.5 245.0,546.4 247.0,546.3 249.0,546.3 251.0,546.4 253.0,546.5 255.0,546.6 257.0,546.8"/>
<polyline stroke-width="4.00" stroke-opacity="0.27" stroke-linecap="butt" points="257.0,546.8 259.0,547.0 261.0,547.1 263.0,547.3 265.0,547.6 267.0,547.8 269.0,548.1 271.0,548.3 273.0,548.6 275.0,548.8 277.0,549.0 279.0,549.2 281.0,549.3"/>
<polyline stroke-width="4.00" stroke-opacity="0.27" stroke-linecap="butt" points="281.0,549.3 283.0,549.4 285.0,549.6 287.0,549.7 289.0,549.8 291.0,549.9 293.0,550.0 295.0,550.1 297.0,550.2 299.0,550.4 301.0,550.5 303.0,550.7 305.0,550.9"/>
<polyline stroke-width="4.00" stroke-opacity="0.27" stroke-linecap="butt" points="305.0,550.9 307.0,551.1 309.0,551.3 311.0,551.4 313.0,551.5 315.0,551.6 317.0,551.6 319.0,551.6 321.0,551.6 323.0,551.6 325.0,551.6 327.0,551.6 329.0,551.6"/>
<polyline stroke-width="4.00" stroke-opacity="0.27" stroke-linecap="butt" points="329.0,551.6 331.0,551.6 333.0,551.6 335.0,551.6 337.0,551.6 339.0,551.5 341.0,551.5 343.0,551.4 345.0,551.3 347.0,551.2 349.0,551.0 351.0,550.9 353.0,550.8"/>
<polyline stroke-width="4.00" stroke-opacity="0.27" stroke-linecap="butt" points="353.0,550.8 355.0,550.6 357.0,550.5 359.0,550.4 361.0,550.2 363.0,550.1 365.0,550.0 367.0,549.9 369.0,549.7 371.0,549.6 373.0,549.5 375.0,549.3 377.0,549.2"/>
<polyline stroke-width="4.00" stroke-opacity="0.27" stroke-linecap="butt" points="377.0,549.2 379.0,549.0 381.0,548.9 383.0,548.8 385.0,548.6 387.0,548.5 389.0,548.3 391.0,548.2 393.0,548.0 395.0,547.9 397.0,547.7 399.0,547.6 401.0,547.4"/>
<polyline stroke-width="4.00" stroke-opacity="0.27" stroke-linecap="butt" points="401.0,547.4 403.0,547.2 405.0,547.1 407.0,546.9 409.0,546.7 411.0,546.5 413.0,546.3 415.0,546.1 417.0,545.9 419.0,545.6 421.0,545.4 423.0,545.1 425.0,544.9"/>
<polyline stroke-width="4.00" stroke-opacity="0.27" stroke-linecap="butt" points="425.0,544.9 427.0,544.6 429.0,544.4 431.0,544.1 433.0,543.9 435.0,543.6 437.0,543.4 439.0,543.2 441.0,543.0 443.0,542.8 445.0,542.6 447.0,542.4 449.0,542.2"/>
<polyline stroke-width="3.97" stroke-opacity="0.25" stroke-linecap="butt" points="449.0,542.2 451.0,541.9 453.0,541.6 455.0,541.2 457.0,540.7 459.0,540.2 461.0,539.6 463.0,539.0 465.0,538.4 467.0,537.7 469.0,537.0 471.0,536.3 473.0,535.6"/>
<polyline stroke-width="3.90" stroke-opacity="0.21" stroke-linecap="butt" points="473.0,535.6 475.0,534.8 477.0,534.0 479.0,533.2 481.0,532.3 483.0,531.4 485.0,530.5 487.0,529.6 489.0,528.6 491.0,527.6 493.0,526.6 495.0,525.6 497.0,524.5"/>
<polyline stroke-width="3.83" stroke-opacity="0.18" stroke-linecap="butt" points="497.0,524.5 499.0,523.5 501.0,522.4 503.0,521.4 505.0,520.4 507.0,519.4 509.0,518.4 511.0,517.3 513.0,516.2 515.0,515.0 517.0,513.7 519.0,512.4 521.0,511.0"/>
<polyline stroke-width="3.79" stroke-opacity="0.18" stroke-linecap="butt" points="521.0,511.0 523.0,509.5 525.0,508.0 527.0,506.5 529.0,505.0 531.0,503.6 533.0,502.1 535.0,500.6 537.0,499.1 539.0,497.6 541.0,496.1 543.0,494.5 545.0,493.0"/>
<polyline stroke-width="3.78" stroke-opacity="0.18" stroke-linecap="butt" points="545.0,493.0 547.0,491.4 549.0,489.8 551.0,488.2 553.0,486.6 555.0,484.9 557.0,483.1 559.0,481.3 561.0,479.5 563.0,477.8 565.0,476.1 567.0,474.5 569.0,473.0"/>
<polyline stroke-width="3.77" stroke-opacity="0.18" stroke-linecap="butt" points="569.0,473.0 571.0,471.5 573.0,470.1 575.0,468.6 577.0,467.1 579.0,465.6 581.0,464.2 583.0,462.6 585.0,461.0 587.0,459.3 589.0,457.4 591.0,455.5 593.0,453.7"/>
<polyline stroke-width="3.76" stroke-opacity="0.18" stroke-linecap="butt" points="593.0,453.7 595.0,451.8 597.0,450.0 599.0,448.2 601.0,446.5 603.0,444.7 605.0,442.9 607.0,441.0 609.0,439.1 611.0,437.2 613.0,435.2 615.0,433.2 617.0,431.1"/>
<polyline stroke-width="3.75" stroke-opacity="0.18" stroke-linecap="butt" points="617.0,431.1 619.0,429.0 621.0,426.7 623.0,424.4 625.0,422.1 627.0,419.8 629.0,417.7 631.0,415.7 633.0,413.8 635.0,411.8 637.0,409.9 639.0,407.8 641.0,405.7"/>
<polyline stroke-width="3.74" stroke-opacity="0.18" stroke-linecap="butt" points="641.0,405.7 643.0,403.5 645.0,401.3 647.0,399.0 649.0,396.7 651.0,394.3 653.0,391.9 655.0,389.3 657.0,386.7 659.0,384.2 661.0,381.9 663.0,379.6 665.0,377.4"/>
<polyline stroke-width="3.73" stroke-opacity="0.18" stroke-linecap="butt" points="665.0,377.4 667.0,375.2 669.0,373.0 671.0,370.7 673.0,368.4 675.0,366.1 677.0,363.9 679.0,361.6 681.0,359.4 683.0,357.3 685.0,355.2 687.0,353.1 689.0,351.1"/>
<polyline stroke-width="3.72" stroke-opacity="0.18" stroke-linecap="butt" points="689.0,351.1 691.0,349.1 693.0,347.3 695.0,345.4 697.0,343.5 699.0,341.6 701.0,339.4 703.0,337.1 705.0,334.6 707.0,332.1 709.0,329.6 711.0,327.3 713.0,325.1"/>
<polyline stroke-width="3.71" stroke-opacity="0.18" stroke-linecap="butt" points="713.0,325.1 715.0,323.0 717.0,320.9 719.0,319.0 721.0,317.0 723.0,315.1 725.0,313.2 727.0,311.5 729.0,309.8 731.0,308.4 733.0,307.0 735.0,305.7 737.0,304.6"/>
<polyline stroke-width="3.80" stroke-opacity="0.24" stroke-linecap="butt" points="857.0,501.9 859.0,502.8 861.0,503.6 863.0,504.1 865.0,504.7 867.0,505.2 869.0,505.6 871.0,506.0 873.0,506.4 875.0,506.7 877.0,506.9 879.0,507.1 881.0,507.2"/>
<polyline stroke-width="3.80" stroke-opacity="0.24" stroke-linecap="butt" points="881.0,507.2 883.0,507.3 885.0,507.3 887.0,507.4 889.0,507.5 891.0,507.5 893.0,507.6 895.0,507.7 897.0,507.9 899.0,508.1 901.0,508.3 903.0,508.5 905.0,508.7"/>
<polyline stroke-width="3.80" stroke-opacity="0.24" stroke-linecap="butt" points="905.0,508.7 907.0,508.9 909.0,509.1 911.0,509.3 913.0,509.5 915.0,509.7 917.0,509.9 919.0,510.1 921.0,510.3 923.0,510.4 925.0,510.6 927.0,510.8 929.0,510.9"/>
<polyline stroke-width="3.80" stroke-opacity="0.24" stroke-linecap="butt" points="929.0,510.9 931.0,511.0 933.0,511.0 935.0,511.0 937.0,510.9 939.0,510.9 941.0,510.8 943.0,510.6 945.0,510.4 947.0,510.3 949.0,510.1 951.0,509.9 953.0,509.7"/>
<polyline stroke-width="3.80" stroke-opacity="0.24" stroke-linecap="butt" points="953.0,509.7 955.0,509.5 957.0,509.3 959.0,509.1 961.0,508.9 963.0,508.7 965.0,508.4 967.0,508.2 969.0,507.9 971.0,507.7 973.0,507.4 975.0,507.1"/>
<polyline stroke-width="2.30" points="89.0,540.0 89.8,540.2 90.5,540.0 91.2,539.3 92.0,540.4 92.8,540.2 93.5,539.8 94.2,540.4 95.0,540.4"/>
<polyline stroke-width="2.30" points="95.0,540.4 95.8,540.4 96.5,540.3 97.2,540.6 98.0,540.1 98.8,540.4 99.5,540.3 100.2,540.9 101.0,540.7"/>
<polyline stroke-width="2.30" points="101.0,540.7 101.8,540.6 102.5,540.5 103.2,540.8 104.0,541.0 104.8,540.9 105.5,541.7 106.2,541.7 107.0,540.1"/>
<polyline stroke-width="2.30" points="107.0,540.1 107.8,540.5 108.5,541.4 109.2,541.3 110.0,541.7 110.8,541.8 111.5,542.7 112.2,541.4 113.0,541.8"/>
<polyline stroke-width="2.30" points="113.0,541.8 113.8,543.0 114.5,542.5 115.2,542.6 116.0,542.2 116.8,541.8 117.5,542.8 118.2,542.9 119.0,542.4"/>
<polyline stroke-width="2.30" points="119.0,542.4 119.8,542.8 120.5,543.2 121.2,542.9 122.0,543.4 122.8,543.6 123.5,543.7 124.2,543.5 125.0,544.1"/>
<polyline stroke-width="2.30" points="125.0,544.1 125.8,544.3 126.5,544.2 127.2,543.7 128.0,544.5 128.8,544.0 129.5,544.6 130.2,543.8 131.0,544.8"/>
<polyline stroke-width="2.30" points="131.0,544.8 131.8,544.4 132.5,543.9 133.2,544.4 134.0,544.6 134.8,544.7 135.5,544.2 136.2,544.2 137.0,544.8"/>
<polyline stroke-width="2.30" points="137.0,544.8 137.8,544.6 138.5,544.9 139.2,545.2 140.0,544.2 140.8,545.1 141.5,545.6 142.2,544.9 143.0,544.7"/>
<polyline stroke-width="2.30" points="143.0,544.7 143.8,545.4 144.5,545.2 145.2,545.6 146.0,545.0 146.8,544.5 147.5,545.2 148.2,545.0 149.0,545.6"/>
<polyline stroke-width="2.30" points="149.0,545.6 149.8,545.4 150.5,544.6 151.2,544.8 152.0,545.7 152.8,545.6 153.5,545.0 154.2,545.3 155.0,545.5"/>
<polyline stroke-width="2.30" points="155.0,545.5 155.8,545.4 156.5,545.6 157.2,545.2 158.0,545.0 158.8,544.9 159.5,545.4 160.2,543.9 161.0,544.7"/>
<polyline stroke-width="2.30" points="161.0,544.7 161.8,544.7 162.5,544.0 163.2,544.7 164.0,544.2 164.8,544.7 165.5,544.2 166.2,544.5 167.0,544.6"/>
<polyline stroke-width="2.30" points="167.0,544.6 167.8,544.2 168.5,543.5 169.2,543.2 170.0,544.5 170.8,543.6 171.5,543.3 172.2,543.6 173.0,543.4"/>
<polyline stroke-width="2.30" points="173.0,543.4 173.8,543.8 174.5,543.4 175.2,543.4 176.0,543.0 176.8,543.5 177.5,542.8 178.2,543.6 179.0,544.0"/>
<polyline stroke-width="2.30" points="179.0,544.0 179.8,542.6 180.5,542.2 181.2,543.6 182.0,544.5 182.8,542.9 183.5,542.8 184.2,543.7 185.0,543.0"/>
<polyline stroke-width="2.30" points="185.0,543.0 185.8,543.2 186.5,543.3 187.2,543.7 188.0,543.3 188.8,543.7 189.5,543.5 190.2,543.2 191.0,543.5"/>
<polyline stroke-width="2.30" points="191.0,543.5 191.8,543.3 192.5,543.8 193.2,543.3 194.0,543.4 194.8,544.7 195.5,544.1 196.2,544.2 197.0,544.6"/>
<polyline stroke-width="2.30" points="197.0,544.6 197.8,544.3 198.5,544.6 199.2,545.0 200.0,545.1 200.8,544.6 201.5,545.6 202.2,545.2 203.0,545.1"/>
<polyline stroke-width="2.30" points="203.0,545.1 203.8,545.3 204.5,545.7 205.2,546.7 206.0,545.6 206.8,546.3 207.5,545.4 208.2,546.4 209.0,546.9"/>
<polyline stroke-width="2.30" points="209.0,546.9 209.8,546.4 210.5,546.3 211.2,546.8 212.0,547.0 212.8,547.0 213.5,547.7 214.2,546.9 215.0,546.6"/>
<polyline stroke-width="2.30" points="215.0,546.6 215.8,546.9 216.5,546.9 217.2,547.0 218.0,547.0 218.8,547.1 219.5,546.3 220.2,547.5 221.0,546.9"/>
<polyline stroke-width="2.30" points="221.0,546.9 221.8,546.7 222.5,547.5 223.2,547.8 224.0,547.5 224.8,547.3 225.5,546.9 226.2,548.6 227.0,547.7"/>
<polyline stroke-width="2.30" points="227.0,547.7 227.8,546.8 228.5,546.9 229.2,547.3 230.0,546.6 230.8,547.3 231.5,547.0 232.2,547.7 233.0,547.6"/>
<polyline stroke-width="2.30" points="233.0,547.6 233.8,545.9 234.5,547.1 235.2,546.3 236.0,547.4 236.8,547.0 237.5,547.1 238.2,546.3 239.0,547.5"/>
<polyline stroke-width="2.30" points="239.0,547.5 239.8,547.6 240.5,546.1 241.2,546.7 242.0,546.2 242.8,546.5 243.5,545.9 244.2,547.2 245.0,545.9"/>
<polyline stroke-width="2.30" points="245.0,545.9 245.8,546.2 246.5,546.5 247.2,546.0 248.0,546.2 248.8,546.1 249.5,546.3 250.2,545.8 251.0,546.2"/>
<polyline stroke-width="2.30" points="251.0,546.2 251.8,546.3 252.5,546.3 253.2,546.5 254.0,546.4 254.8,547.0 255.5,546.5 256.2,546.7 257.0,546.5"/>
<polyline stroke-width="2.30" points="257.0,546.5 257.8,546.6 258.5,546.4 259.2,547.2 260.0,546.5 260.8,546.8 261.5,547.3 262.2,547.4 263.0,547.2"/>
<polyline stroke-width="2.30" points="263.0,547.2 263.8,546.5 264.5,547.7 265.2,547.7 266.0,547.0 266.8,548.1 267.5,547.6 268.2,547.5 269.0,548.1"/>
<polyline stroke-width="2.30" points="269.0,548.1 269.8,548.1 270.5,548.4 271.2,547.6 272.0,549.3 272.8,548.3 273.5,547.9 274.2,549.0 275.0,548.6"/>
<polyline stroke-width="2.30" points="275.0,548.6 275.8,549.0 276.5,548.8 277.2,549.0 278.0,549.2 278.8,548.8 279.5,549.5 280.2,549.0 281.0,548.9"/>
<polyline stroke-width="2.30" points="281.0,548.9 281.8,549.4 282.5,549.6 283.2,549.4 284.0,549.1 284.8,549.8 285.5,548.8 286.2,549.2 287.0,549.7"/>
<polyline stroke-width="2.30" points="287.0,549.7 287.8,549.1 288.5,549.8 289.2,549.8 290.0,550.2 290.8,549.5 291.5,549.6 292.2,550.1 293.0,548.9"/>
<polyline stroke-width="2.30" points="293.0,548.9 293.8,551.4 294.5,549.8 295.2,549.8 296.0,550.6 296.8,550.2 297.5,549.5 298.2,550.6 299.0,550.7"/>
<polyline stroke-width="2.30" points="299.0,550.7 299.8,550.2 300.5,550.4 301.2,550.8 302.0,550.2 302.8,550.9 303.5,550.9 304.2,550.5 305.0,550.3"/>
<polyline stroke-width="2.30" points="305.0,550.3 305.8,550.9 306.5,550.7 307.2,551.6 308.0,551.3 308.8,551.6 309.5,551.4 310.2,551.5 311.0,551.1"/>
<polyline stroke-width="2.30" points="311.0,551.1 311.8,551.8 312.5,552.3 313.2,551.4 314.0,551.3 314.8,551.5 315.5,551.4 316.2,551.3 317.0,551.7"/>
<polyline stroke-width="2.30" points="317.0,551.7 317.8,551.5 318.5,552.2 319.2,551.6 320.0,551.7 320.8,552.0 321.5,551.5 322.2,552.2 323.0,551.3"/>
<polyline stroke-width="2.30" points="323.0,551.3 323.8,551.2 324.5,551.4 325.2,551.5 326.0,551.0 326.8,551.6 327.5,550.8 328.2,552.2 329.0,551.6"/>
<polyline stroke-width="2.30" points="329.0,551.6 329.8,551.3 330.5,551.2 331.2,551.4 332.0,551.5 332.8,551.1 333.5,551.2 334.2,551.5 335.0,551.4"/>
<polyline stroke-width="2.30" points="335.0,551.4 335.8,552.0 336.5,552.1 337.2,551.6 338.0,551.8 338.8,550.9 339.5,551.8 340.2,551.5 341.0,551.7"/>
<polyline stroke-width="2.30" points="341.0,551.7 341.8,552.2 342.5,550.4 343.2,551.5 344.0,550.8 344.8,551.6 345.5,550.7 346.2,551.0 347.0,551.3"/>
<polyline stroke-width="2.30" points="347.0,551.3 347.8,551.4 348.5,551.1 349.2,550.7 350.0,550.7 350.8,551.3 351.5,550.9 352.2,550.1 353.0,551.1"/>
<polyline stroke-width="2.30" points="353.0,551.1 353.8,550.9 354.5,551.1 355.2,550.5 356.0,550.9 356.8,550.0 357.5,550.7 358.2,550.2 359.0,550.7"/>
<polyline stroke-width="2.30" points="359.0,550.7 359.8,550.8 360.5,549.9 361.2,550.2 362.0,550.2 362.8,550.7 363.5,550.4 364.2,549.5 365.0,550.2"/>
<polyline stroke-width="2.30" points="365.0,550.2 365.8,550.3 366.5,550.9 367.2,549.1 368.0,549.6 368.8,550.4 369.5,549.1 370.2,549.1 371.0,549.8"/>
<polyline stroke-width="2.30" points="371.0,549.8 371.8,550.0 372.5,549.2 373.2,549.7 374.0,549.5 374.8,550.0 375.5,549.3 376.2,549.7 377.0,548.8"/>
<polyline stroke-width="2.30" points="377.0,548.8 377.8,549.1 378.5,549.0 379.2,549.5 380.0,549.2 380.8,548.6 381.5,549.2 382.2,549.2 383.0,548.7"/>
<polyline stroke-width="2.30" points="383.0,548.7 383.8,548.6 384.5,548.6 385.2,547.8 386.0,548.6 386.8,548.6 387.5,548.0 388.2,548.7 389.0,547.7"/>
<polyline stroke-width="2.30" points="389.0,547.7 389.8,548.0 390.5,548.0 391.2,549.1 392.0,547.4 392.8,548.3 393.5,548.4 394.2,548.1 395.0,548.4"/>
<polyline stroke-width="2.30" points="395.0,548.4 395.8,547.4 396.5,546.7 397.2,548.1 398.0,547.1 398.8,547.4 399.5,547.0 400.2,547.9 401.0,547.8"/>
<polyline stroke-width="2.30" points="401.0,547.8 401.8,547.0 402.5,547.7 403.2,547.3 404.0,547.1 404.8,547.1 405.5,546.9 406.2,547.2 407.0,547.0"/>
<polyline stroke-width="2.30" points="407.0,547.0 407.8,546.7 408.5,547.2 409.2,546.4 410.0,546.7 410.8,546.7 411.5,547.1 412.2,546.2 413.0,547.1"/>
<polyline stroke-width="2.30" points="413.0,547.1 413.8,546.3 414.5,546.1 415.2,545.8 416.0,546.2 416.8,545.9 417.5,545.3 418.2,545.2 419.0,545.4"/>
<polyline stroke-width="2.30" points="419.0,545.4 419.8,545.2 420.5,545.9 421.2,546.0 422.0,545.6 422.8,545.3 423.5,544.9 424.2,545.0 425.0,545.3"/>
<polyline stroke-width="2.30" points="425.0,545.3 425.8,545.7 426.5,545.1 427.2,544.5 428.0,544.5 428.8,544.2 429.5,544.0 430.2,544.1 431.0,544.2"/>
<polyline stroke-width="2.30" points="431.0,544.2 431.8,544.9 432.5,544.0 433.2,544.5 434.0,544.5 434.8,543.7 435.5,544.3 436.2,543.8 437.0,543.2"/>
<polyline stroke-width="2.30" points="437.0,543.2 437.8,543.5 438.5,543.3 439.2,543.1 440.0,543.0 440.8,543.1 441.5,543.2 442.2,542.5 443.0,542.8"/>
<polyline stroke-width="2.30" points="443.0,542.8 443.8,542.1 444.5,542.8 445.2,542.9 446.0,542.6 446.8,542.6 447.5,542.6 448.2,542.0 449.0,542.1"/>
<polyline stroke-width="2.29" points="449.0,542.1 449.8,542.3 450.5,542.4 451.2,542.0 452.0,542.9 452.8,541.6 453.5,541.9 454.2,541.9 455.0,541.1"/>
<polyline stroke-width="2.28" points="455.0,541.1 455.8,540.7 456.5,540.4 457.2,540.8 458.0,541.0 458.8,540.4 459.5,540.2 460.2,539.7 461.0,539.9"/>
<polyline stroke-width="2.26" points="461.0,539.9 461.8,538.5 462.5,539.3 463.2,538.9 464.0,538.1 464.8,539.3 465.5,537.6 466.2,537.5 467.0,537.2"/>
<polyline stroke-width="2.24" points="467.0,537.2 467.8,537.9 468.5,536.8 469.2,537.2 470.0,536.9 470.8,536.5 471.5,535.6 472.2,535.6 473.0,536.2"/>
<polyline stroke-width="2.23" points="473.0,536.2 473.8,534.8 474.5,534.7 475.2,534.6 476.0,534.7 476.8,534.2 477.5,534.1 478.2,533.1 479.0,533.5"/>
<polyline stroke-width="2.21" points="479.0,533.5 479.8,533.1 480.5,532.0 481.2,532.7 482.0,532.7 482.8,531.3 483.5,531.2 484.2,531.4 485.0,530.0"/>
<polyline stroke-width="2.19" points="485.0,530.0 485.8,529.5 486.5,529.4 487.2,529.3 488.0,528.9 488.8,529.0 489.5,528.5 490.2,527.6 491.0,527.8"/>
<polyline stroke-width="2.17" points="491.0,527.8 491.8,527.9 492.5,527.3 493.2,526.8 494.0,526.1 494.8,526.0 495.5,525.0 496.2,525.2 497.0,524.5"/>
<polyline stroke-width="2.16" points="497.0,524.5 497.8,524.5 498.5,523.9 499.2,523.0 500.0,523.0 500.8,522.9 501.5,521.8 502.2,521.6 503.0,521.2"/>
<polyline stroke-width="2.14" points="503.0,521.2 503.8,520.6 504.5,520.9 505.2,520.7 506.0,520.1 506.8,519.6 507.5,519.1 508.2,518.8 509.0,518.1"/>
<polyline stroke-width="2.12" points="509.0,518.1 509.8,518.2 510.5,517.9 511.2,517.4 512.0,516.6 512.8,516.3 513.5,515.8 514.2,516.0 515.0,515.1"/>
<polyline stroke-width="2.11" points="515.0,515.1 515.8,514.0 516.5,514.2 517.2,514.1 518.0,513.3 518.8,512.8 519.5,512.1 520.2,510.9 521.0,510.4"/>
<polyline stroke-width="2.10" points="521.0,510.4 521.8,510.0 522.5,509.8 523.2,509.4 524.0,509.0 524.8,508.1 525.5,507.9 526.2,507.0 527.0,506.3"/>
<polyline stroke-width="2.10" points="527.0,506.3 527.8,506.2 528.5,505.1 529.2,504.0 530.0,504.0 530.8,503.8 531.5,502.3 532.2,502.6 533.0,502.0"/>
<polyline stroke-width="2.09" points="533.0,502.0 533.8,501.1 534.5,500.6 535.2,500.3 536.0,499.7 536.8,499.7 537.5,498.9 538.2,497.7 539.0,497.4"/>
<polyline stroke-width="2.09" points="539.0,497.4 539.8,497.3 540.5,497.0 541.2,496.0 542.0,495.4 542.8,495.3 543.5,494.2 544.2,493.5 545.0,492.6"/>
<polyline stroke-width="2.09" points="545.0,492.6 545.8,492.3 546.5,492.5 547.2,490.8 548.0,490.6 548.8,489.6 549.5,489.5 550.2,489.1 551.0,488.1"/>
<polyline stroke-width="2.08" points="551.0,488.1 551.8,487.8 552.5,487.2 553.2,486.5 554.0,486.2 554.8,485.3 555.5,484.3 556.2,483.6 557.0,482.8"/>
<polyline stroke-width="2.08" points="557.0,482.8 557.8,482.6 558.5,481.7 559.2,481.9 560.0,481.0 560.8,479.7 561.5,479.0 562.2,478.9 563.0,477.2"/>
<polyline stroke-width="2.08" points="563.0,477.2 563.8,477.0 564.5,476.8 565.2,475.6 566.0,475.1 566.8,474.6 567.5,474.3 568.2,473.6 569.0,473.1"/>
<polyline stroke-width="2.08" points="569.0,473.1 569.8,472.6 570.5,471.9 571.2,471.7 572.0,470.6 572.8,469.8 573.5,469.2 574.2,468.7 575.0,468.5"/>
<polyline stroke-width="2.07" points="575.0,468.5 575.8,468.4 576.5,467.6 577.2,466.8 578.0,466.1 578.8,465.7 579.5,465.2 580.2,464.6 581.0,463.7"/>
<polyline stroke-width="2.07" points="581.0,463.7 581.8,463.4 582.5,463.3 583.2,461.8 584.0,461.7 584.8,460.6 585.5,460.6 586.2,459.7 587.0,458.6"/>
<polyline stroke-width="2.07" points="587.0,458.6 587.8,458.6 588.5,458.4 589.2,457.2 590.0,456.8 590.8,455.8 591.5,454.4 592.2,454.5 593.0,453.5"/>
<polyline stroke-width="2.07" points="593.0,453.5 593.8,452.5 594.5,452.5 595.2,451.7 596.0,450.7 596.8,450.5 597.5,449.3 598.2,449.1 599.0,448.0"/>
<polyline stroke-width="2.06" points="599.0,448.0 599.8,447.7 600.5,446.6 601.2,446.7 602.0,445.7 602.8,445.4 603.5,444.0 604.2,443.4 605.0,443.2"/>
<polyline stroke-width="2.06" points="605.0,443.2 605.8,441.4 606.5,441.2 607.2,441.1 608.0,440.2 608.8,439.7 609.5,438.6 610.2,438.1 611.0,437.0"/>
<polyline stroke-width="2.06" points="611.0,437.0 611.8,436.1 612.5,435.2 613.2,434.8 614.0,434.1 614.8,433.3 615.5,431.6 616.2,431.3 617.0,431.0"/>
<polyline stroke-width="2.05" points="617.0,431.0 617.8,430.4 618.5,429.4 619.2,428.4 620.0,427.2 620.8,427.6 621.5,425.8 622.2,425.8 623.0,424.9"/>
<polyline stroke-width="2.05" points="623.0,424.9 623.8,423.6 624.5,422.5 625.2,421.8 626.0,420.6 626.8,420.2 627.5,419.3 628.2,418.7 629.0,418.0"/>
<polyline stroke-width="2.05" points="629.0,418.0 629.8,417.5 630.5,416.1 631.2,415.8 632.0,414.5 632.8,413.8 633.5,413.1 634.2,412.3 635.0,412.1"/>
<polyline stroke-width="2.05" points="635.0,412.1 635.8,411.4 636.5,410.7 637.2,409.6 638.0,408.9 638.8,407.9 639.5,406.9 640.2,406.6 641.0,405.7"/>
<polyline stroke-width="2.04" points="641.0,405.7 641.8,404.5 642.5,404.2 643.2,402.7 644.0,402.3 644.8,401.4 645.5,400.6 646.2,399.5 647.0,399.3"/>
<polyline stroke-width="2.04" points="647.0,399.3 647.8,398.3 648.5,397.6 649.2,396.5 650.0,395.1 650.8,394.5 651.5,393.4 652.2,392.9 653.0,392.2"/>
<polyline stroke-width="2.04" points="653.0,392.2 653.8,391.0 654.5,389.8 655.2,388.9 656.0,388.1 656.8,386.6 657.5,386.2 658.2,385.2 659.0,384.1"/>
<polyline stroke-width="2.04" points="659.0,384.1 659.8,383.2 660.5,382.5 661.2,381.3 662.0,380.5 662.8,380.1 663.5,379.1 664.2,378.7 665.0,377.1"/>
<polyline stroke-width="2.03" points="665.0,377.1 665.8,376.0 666.5,376.0 667.2,375.2 668.0,373.8 668.8,372.8 669.5,372.4 670.2,371.0 671.0,370.6"/>
<polyline stroke-width="2.03" points="671.0,370.6 671.8,369.2 672.5,368.9 673.2,367.5 674.0,367.2 674.8,366.9 675.5,365.5 676.2,364.9 677.0,363.7"/>
<polyline stroke-width="2.03" points="677.0,363.7 677.8,362.7 678.5,361.7 679.2,361.7 680.0,360.5 680.8,360.2 681.5,358.5 682.2,358.0 683.0,357.3"/>
<polyline stroke-width="2.02" points="683.0,357.3 683.8,356.9 684.5,356.3 685.2,354.7 686.0,353.8 686.8,352.9 687.5,353.0 688.2,351.8 689.0,350.9"/>
<polyline stroke-width="2.02" points="689.0,350.9 689.8,350.3 690.5,348.8 691.2,348.4 692.0,348.5 692.8,347.6 693.5,346.8 694.2,345.8 695.0,345.6"/>
<polyline stroke-width="2.02" points="695.0,345.6 695.8,345.2 696.5,343.6 697.2,343.3 698.0,342.4 698.8,341.9 699.5,341.0 700.2,340.2 701.0,339.2"/>
<polyline stroke-width="2.02" points="701.0,339.2 701.8,338.6 702.5,337.5 703.2,336.7 704.0,335.8 704.8,335.1 705.5,333.8 706.2,332.9 707.0,332.4"/>
<polyline stroke-width="2.01" points="707.0,332.4 707.8,331.1 708.5,330.1 709.2,329.6 710.0,328.5 710.8,327.6 711.5,326.8 712.2,325.6 713.0,325.3"/>
<polyline stroke-width="2.01" points="713.0,325.3 713.8,324.7 714.5,323.7 715.2,322.3 716.0,322.0 716.8,320.9 717.5,320.4 718.2,319.7 719.0,318.6"/>
<polyline stroke-width="2.01" points="719.0,318.6 719.8,318.6 720.5,317.5 721.2,317.0 722.0,316.2 722.8,315.7 723.5,315.0 724.2,313.5 725.0,313.3"/>
<polyline stroke-width="2.01" points="725.0,313.3 725.8,311.9 726.5,311.8 727.2,311.5 728.0,310.9 728.8,310.4 729.5,309.3 730.2,309.0 731.0,308.4"/>
<polyline stroke-width="2.00" points="731.0,308.4 731.8,308.2 732.5,307.8 733.2,306.7 734.0,307.4 734.8,305.8 735.5,305.3 736.2,305.2 737.0,304.9"/>
<polyline stroke-width="2.00" points="737.0,304.9 737.8,304.5 738.5,304.0 739.2,304.4 740.0,303.8 740.8,304.0 741.5,303.8 742.2,302.9 743.0,302.9"/>
<polyline stroke-width="1.94" points="743.0,302.9 743.8,302.8 744.5,303.2 745.2,303.2 746.0,303.3 746.8,303.2 747.5,303.7 748.2,304.2 749.0,303.8"/>
<polyline stroke-width="1.88" points="749.0,303.8 749.8,304.4 750.5,304.8 751.2,305.3 752.0,306.1 752.8,307.4 753.5,308.1 754.2,308.8 755.0,309.3"/>
<polyline stroke-width="1.82" points="755.0,309.3 755.8,310.6 756.5,311.0 757.2,311.6 758.0,312.4 758.8,313.3 759.5,314.6 760.2,315.3 761.0,316.4"/>
<polyline stroke-width="1.80" points="761.0,316.4 761.8,317.4 762.5,319.4 763.2,320.7 764.0,322.3 764.8,324.2 765.5,325.6 766.2,327.5 767.0,329.2"/>
<polyline stroke-width="1.80" points="767.0,329.2 767.8,330.5 768.5,332.5 769.2,334.0 770.0,335.9 770.8,337.8 771.5,339.2 772.2,341.3 773.0,342.7"/>
<polyline stroke-width="1.80" points="773.0,342.7 773.8,344.2 774.5,346.0 775.2,347.8 776.0,349.2 776.8,351.1 777.5,352.7 778.2,354.9 779.0,356.6"/>
<polyline stroke-width="1.80" points="779.0,356.6 779.8,358.5 780.5,360.7 781.2,362.4 782.0,364.6 782.8,367.1 783.5,368.9 784.2,371.2 785.0,373.2"/>
<polyline stroke-width="1.80" points="785.0,373.2 785.8,375.3 786.5,377.6 787.2,379.9 788.0,382.1 788.8,384.3 789.5,386.6 790.2,388.8 791.0,391.3"/>
<polyline stroke-width="1.80" points="791.0,391.3 791.8,393.6 792.5,396.0 793.2,397.9 794.0,400.6 794.8,402.8 795.5,404.8 796.2,407.3 797.0,409.6"/>
<polyline stroke-width="1.80" points="797.0,409.6 797.8,411.7 798.5,413.9 799.2,416.1 800.0,418.3 800.8,420.3 801.5,422.1 802.2,424.3 803.0,426.5"/>
<polyline stroke-width="1.80" points="803.0,426.5 803.8,428.3 804.5,430.5 805.2,432.4 806.0,434.2 806.8,436.3 807.5,437.7 808.2,439.8 809.0,441.3"/>
<polyline stroke-width="1.80" points="809.0,441.3 809.8,443.0 810.5,444.9 811.2,446.4 812.0,448.3 812.8,449.6 813.5,451.4 814.2,452.8 815.0,454.5"/>
<polyline stroke-width="1.80" points="815.0,454.5 815.8,456.0 816.5,457.4 817.2,459.1 818.0,460.3 818.8,461.7 819.5,463.4 820.2,464.8 821.0,466.0"/>
<polyline stroke-width="1.80" points="821.0,466.0 821.8,467.3 822.5,468.9 823.2,469.6 824.0,470.9 824.8,472.1 825.5,473.5 826.2,474.6 827.0,475.8"/>
<polyline stroke-width="1.80" points="827.0,475.8 827.8,476.9 828.5,477.8 829.2,478.7 830.0,479.7 830.8,481.3 831.5,482.1 832.2,483.0 833.0,483.7"/>
<polyline stroke-width="1.86" points="833.0,483.7 833.8,484.6 834.5,485.4 835.2,486.2 836.0,486.5 836.8,487.7 837.5,488.3 838.2,489.1 839.0,489.8"/>
<polyline stroke-width="1.92" points="839.0,489.8 839.8,490.5 840.5,490.9 841.2,491.7 842.0,491.5 842.8,492.4 843.5,493.7 844.2,493.4 845.0,494.2"/>
<polyline stroke-width="1.98" points="845.0,494.2 845.8,495.0 846.5,495.0 847.2,496.0 848.0,495.9 848.8,496.2 849.5,496.9 850.2,497.3 851.0,498.3"/>
<polyline stroke-width="2.04" points="851.0,498.3 851.8,498.7 852.5,499.4 853.2,499.4 854.0,501.1 854.8,500.6 855.5,501.0 856.2,501.6 857.0,501.8"/>
<polyline stroke-width="2.10" points="857.0,501.8 857.8,502.0 858.5,502.6 859.2,503.3 860.0,503.5 860.8,503.8 861.5,503.5 862.2,503.6 863.0,504.9"/>
<polyline stroke-width="2.10" points="863.0,504.9 863.8,504.2 864.5,504.7 865.2,505.0 866.0,505.5 866.8,504.6 867.5,505.1 868.2,505.3 869.0,505.5"/>
<polyline stroke-width="2.10" points="869.0,505.5 869.8,504.8 870.5,505.9 871.2,504.9 872.0,506.3 872.8,506.6 873.5,506.7 874.2,506.1 875.0,507.1"/>
<polyline stroke-width="2.10" points="875.0,507.1 875.8,506.4 876.5,506.4 877.2,506.5 878.0,506.6 878.8,507.1 879.5,507.4 880.2,506.3 881.0,506.9"/>
<polyline stroke-width="2.10" points="881.0,506.9 881.8,507.6 882.5,507.3 883.2,507.5 884.0,506.7 884.8,507.7 885.5,506.7 886.2,507.4 887.0,507.9"/>
<polyline stroke-width="2.10" points="887.0,507.9 887.8,508.2 888.5,507.6 889.2,507.8 890.0,507.2 890.8,507.3 891.5,508.0 892.2,507.6 893.0,507.6"/>
<polyline stroke-width="2.10" points="893.0,507.6 893.8,507.1 894.5,507.8 895.2,508.0 896.0,507.5 896.8,507.6 897.5,508.5 898.2,508.1 899.0,507.9"/>
<polyline stroke-width="2.10" points="899.0,507.9 899.8,507.7 900.5,508.0 901.2,508.2 902.0,508.9 902.8,508.2 903.5,509.2 904.2,508.2 905.0,508.5"/>
<polyline stroke-width="2.10" points="905.0,508.5 905.8,509.1 906.5,508.8 907.2,508.6 908.0,509.0 908.8,509.3 909.5,508.5 910.2,509.1 911.0,509.3"/>
<polyline stroke-width="2.10" points="911.0,509.3 911.8,509.2 912.5,509.7 913.2,509.3 914.0,509.4 914.8,509.7 915.5,510.0 916.2,509.7 917.0,510.5"/>
<polyline stroke-width="2.10" points="917.0,510.5 917.8,509.6 918.5,510.5 919.2,509.7 920.0,510.1 920.8,510.4 921.5,511.1 922.2,510.7 923.0,510.3"/>
<polyline stroke-width="2.10" points="923.0,510.3 923.8,511.0 924.5,510.5 925.2,510.3 926.0,510.9 926.8,510.8 927.5,511.2 928.2,510.6 929.0,511.0"/>
<polyline stroke-width="2.10" points="929.0,511.0 929.8,511.2 930.5,511.0 931.2,510.9 932.0,510.7 932.8,511.4 933.5,511.1 934.2,511.2 935.0,510.9"/>
<polyline stroke-width="2.10" points="935.0,510.9 935.8,511.0 936.5,510.5 937.2,511.0 938.0,511.2 938.8,510.9 939.5,511.2 940.2,510.9 941.0,511.3"/>
<polyline stroke-width="2.10" points="941.0,511.3 941.8,510.6 942.5,510.0 943.2,510.8 944.0,510.5 944.8,510.1 945.5,510.7 946.2,510.4 947.0,510.4"/>
<polyline stroke-width="2.10" points="947.0,510.4 947.8,510.1 948.5,510.2 949.2,510.1 950.0,510.7 950.8,509.6 951.5,509.8 952.2,509.9 953.0,509.0"/>
<polyline stroke-width="2.10" points="953.0,509.0 953.8,509.0 954.5,510.4 955.2,508.7 956.0,509.6 956.8,509.0 957.5,508.9 958.2,508.4 959.0,508.7"/>
<polyline stroke-width="2.10" points="959.0,508.7 959.8,509.3 960.5,508.4 961.2,509.1 962.0,508.9 962.8,509.5 963.5,508.4 964.2,509.0 965.0,508.8"/>
<polyline stroke-width="2.10" points="965.0,508.8 965.8,508.2 966.5,507.6 967.2,508.8 968.0,507.5 968.8,507.8 969.5,508.2 970.2,508.2 971.0,507.3"/>
<polyline stroke-width="2.10" points="971.0,507.3 971.8,507.6 972.5,507.4 973.2,507.9 974.0,508.3 974.8,506.4 975.5,507.4 976.0,505.9"/>
</g>
<g stroke="#54447c">
<polyline stroke-width="3.75" stroke-opacity="0.17" stroke-linecap="butt" points="353.0,442.3 355.0,444.9 357.0,447.1 359.0,449.2 361.0,451.4 363.0,453.8 365.0,456.1 367.0,458.4 369.0,460.5 371.0,462.5 373.0,464.3 375.0,465.9 377.0,467.3"/>
<polyline stroke-width="3.99" stroke-opacity="0.21" stroke-linecap="butt" points="377.0,467.3 379.0,468.7 381.0,470.3 383.0,472.0 385.0,473.8 387.0,475.9 389.0,478.7 391.0,480.8 393.0,482.2 395.0,483.5 397.0,484.5 399.0,485.6 401.0,486.6"/>
<polyline stroke-width="4.12" stroke-opacity="0.22" stroke-linecap="butt" points="401.0,486.6 403.0,487.8 405.0,489.1 407.0,490.4 409.0,491.8 411.0,493.2 413.0,494.5 415.0,495.7 417.0,496.8 419.0,497.8 421.0,498.8 423.0,499.7 425.0,500.5"/>
<polyline stroke-width="4.15" stroke-opacity="0.23" stroke-linecap="butt" points="425.0,500.5 427.0,501.2 429.0,501.9 431.0,502.4 433.0,502.9 435.0,503.3 437.0,503.8 439.0,504.1 441.0,504.3 443.0,504.4 445.0,504.3 447.0,503.9 449.0,503.4"/>
<polyline stroke-width="4.19" stroke-opacity="0.24" stroke-linecap="butt" points="449.0,503.4 451.0,502.8 453.0,502.2 455.0,501.5 457.0,500.8 459.0,500.0 461.0,499.0 463.0,498.0 465.0,497.0 467.0,496.1 469.0,495.3 471.0,494.4 473.0,493.6"/>
<polyline stroke-width="4.22" stroke-opacity="0.24" stroke-linecap="butt" points="473.0,493.6 475.0,492.9 477.0,492.2 479.0,491.7 481.0,491.3 483.0,491.0 485.0,490.7 487.0,490.5 489.0,490.3 491.0,490.2 493.0,490.2 495.0,490.3 497.0,490.5"/>
<polyline stroke-width="4.26" stroke-opacity="0.25" stroke-linecap="butt" points="497.0,490.5 499.0,490.7 501.0,490.9 503.0,491.1 505.0,491.4 507.0,491.5 509.0,491.7 511.0,491.8 513.0,492.0 515.0,492.2 517.0,492.4 519.0,492.7 521.0,493.0"/>
<polyline stroke-width="4.29" stroke-opacity="0.26" stroke-linecap="butt" points="521.0,493.0 523.0,493.6 525.0,494.2 527.0,494.9 529.0,495.6 531.0,496.3 533.0,496.9 535.0,497.6 537.0,498.4 539.0,499.4 541.0,500.6 543.0,502.0 545.0,503.6"/>
<polyline stroke-width="4.53" stroke-opacity="0.27" stroke-linecap="butt" points="545.0,503.6 547.0,505.0 549.0,506.2 551.0,507.3 553.0,508.2 555.0,509.2 557.0,510.2 559.0,511.4 561.0,513.0 563.0,515.2 565.0,518.0 567.0,521.0 569.0,523.8"/>
<polyline stroke-width="4.70" stroke-opacity="0.28" stroke-linecap="butt" points="569.0,523.8 571.0,526.6 573.0,529.4 575.0,532.3 577.0,535.3 579.0,538.5 581.0,541.8 583.0,545.2 585.0,548.5 587.0,551.7 589.0,554.9 591.0,558.1 593.0,561.2"/>
<polyline stroke-width="4.70" stroke-opacity="0.28" stroke-linecap="butt" points="593.0,561.2 595.0,564.3 597.0,567.4 599.0,570.3 601.0,572.9 603.0,575.3 605.0,577.6 607.0,579.8 609.0,581.8 611.0,583.7 613.0,585.6 615.0,587.3 617.0,589.0"/>
<polyline stroke-width="4.70" stroke-opacity="0.29" stroke-linecap="butt" points="617.0,589.0 619.0,590.5 621.0,592.0 623.0,593.2 625.0,594.4 627.0,595.4 629.0,596.3 631.0,597.2 633.0,598.1 635.0,599.1 637.0,600.1 639.0,601.1 641.0,602.1"/>
<polyline stroke-width="4.70" stroke-opacity="0.30" stroke-linecap="butt" points="641.0,602.1 643.0,603.2 645.0,604.2 647.0,605.2 649.0,606.1 651.0,607.2 653.0,608.3 655.0,609.3 657.0,610.2 659.0,611.0 661.0,611.5 663.0,612.0 665.0,612.4"/>
<polyline stroke-width="4.49" stroke-opacity="0.30" stroke-linecap="butt" points="665.0,612.4 667.0,612.8 669.0,613.1 671.0,613.4 673.0,613.5 675.0,613.6 677.0,613.7 679.0,613.8 681.0,613.9 683.0,613.9 685.0,614.0 687.0,614.0 689.0,614.1"/>
<polyline stroke-width="4.20" stroke-opacity="0.30" stroke-linecap="butt" points="689.0,614.1 691.0,614.1 693.0,614.2 695.0,614.2 697.0,614.3 699.0,614.3 701.0,614.4 703.0,614.5 705.0,614.5 707.0,614.6 709.0,614.7 711.0,614.8 713.0,614.8"/>
<polyline stroke-width="4.15" stroke-opacity="0.31" stroke-linecap="butt" points="713.0,614.8 715.0,614.9 717.0,614.9 719.0,615.0 721.0,615.0 723.0,615.0 725.0,615.0 727.0,615.0 729.0,615.0 731.0,615.0 733.0,614.9 735.0,614.9 737.0,614.9"/>
<polyline stroke-width="4.10" stroke-opacity="0.31" stroke-linecap="butt" points="737.0,614.9 739.0,614.9 741.0,614.8 743.0,614.8 745.0,614.8 747.0,614.8 749.0,614.8 751.0,614.8 753.0,614.9 755.0,614.9 757.0,615.0 759.0,615.1 761.0,615.2"/>
<polyline stroke-width="4.05" stroke-opacity="0.31" stroke-linecap="butt" points="761.0,615.2 763.0,615.3 765.0,615.3 767.0,615.4 769.0,615.5 771.0,615.5 773.0,615.5 775.0,615.5 777.0,615.5 779.0,615.5 781.0,615.4 783.0,615.4 785.0,615.4"/>
<polyline stroke-width="4.01" stroke-opacity="0.31" stroke-linecap="butt" points="785.0,615.4 787.0,615.3 789.0,615.3 791.0,615.3 793.0,615.3 795.0,615.5 797.0,616.2 799.0,617.0 801.0,617.8 803.0,618.3 805.0,618.4 807.0,618.3 809.0,618.1"/>
<polyline stroke-width="3.99" stroke-opacity="0.32" stroke-linecap="butt" points="809.0,618.1 811.0,617.9 813.0,617.7 815.0,617.5 817.0,617.5 819.0,617.5 821.0,617.4 823.0,617.4 825.0,617.0 827.0,616.2 829.0,615.4 831.0,614.8 833.0,614.4"/>
<polyline stroke-width="3.97" stroke-opacity="0.32" stroke-linecap="butt" points="833.0,614.4 835.0,614.3 837.0,614.1 839.0,614.0 841.0,613.9 843.0,613.8 845.0,613.7 847.0,613.6 849.0,613.5 851.0,613.4 853.0,613.4 855.0,613.3 857.0,613.2"/>
<polyline stroke-width="3.96" stroke-opacity="0.32" stroke-linecap="butt" points="857.0,613.2 859.0,613.2 861.0,613.1 863.0,613.1 865.0,613.0 867.0,612.9 869.0,612.9 871.0,612.8 873.0,612.8 875.0,612.7 877.0,612.7 879.0,612.6 881.0,612.6"/>
<polyline stroke-width="3.95" stroke-opacity="0.32" stroke-linecap="butt" points="881.0,612.6 883.0,612.5 885.0,612.5 887.0,612.5 889.0,612.4 891.0,612.4 893.0,612.4 895.0,612.4 897.0,612.4 899.0,612.4 901.0,612.4 903.0,612.4 905.0,612.4"/>
<polyline stroke-width="3.93" stroke-opacity="0.32" stroke-linecap="butt" points="905.0,612.4 907.0,612.4 909.0,612.4 911.0,612.4 913.0,612.4 915.0,612.4 917.0,612.4 919.0,612.4 921.0,612.4 923.0,612.4 925.0,612.4 927.0,612.4 929.0,612.4"/>
<polyline stroke-width="3.92" stroke-opacity="0.33" stroke-linecap="butt" points="929.0,612.4 931.0,612.3 933.0,612.3 935.0,612.1 937.0,612.0 939.0,611.9 941.0,611.7 943.0,611.5 945.0,611.3 947.0,611.1 949.0,610.9 951.0,610.7 953.0,610.5"/>
<polyline stroke-width="3.91" stroke-opacity="0.33" stroke-linecap="butt" points="953.0,610.5 955.0,610.4 957.0,610.2 959.0,610.0 961.0,609.9 963.0,609.7 965.0,609.5 967.0,609.3 969.0,609.1 971.0,609.0 973.0,608.8 975.0,608.6"/>
<polyline stroke-width="2.17" points="89.0,539.6 89.8,539.5 90.5,539.7 91.2,539.2 92.0,540.5 92.8,540.4 93.5,540.1 94.2,540.4 95.0,540.3"/>
<polyline stroke-width="2.10" points="95.0,540.3 95.8,540.1 96.5,540.5 97.2,540.2 98.0,540.2 98.8,540.1 99.5,540.4 100.2,540.2 101.0,540.2"/>
<polyline stroke-width="2.03" points="101.0,540.2 101.8,539.8 102.5,539.8 103.2,539.3 104.0,539.5 104.8,539.1 105.5,538.8 106.2,538.5 107.0,537.9"/>
<polyline stroke-width="1.96" points="107.0,537.9 107.8,537.9 108.5,537.7 109.2,536.4 110.0,535.7 110.8,534.9 111.5,534.4 112.2,533.4 113.0,532.6"/>
<polyline stroke-width="1.89" points="113.0,532.6 113.8,531.7 114.5,530.7 115.2,529.7 116.0,528.6 116.8,527.7 117.5,526.3 118.2,525.3 119.0,524.2"/>
<polyline stroke-width="1.83" points="119.0,524.2 119.8,523.2 120.5,521.6 121.2,520.3 122.0,519.1 122.8,518.0 123.5,516.5 124.2,515.3 125.0,513.4"/>
<polyline stroke-width="1.77" points="125.0,513.4 125.8,512.4 126.5,510.8 127.2,508.8 128.0,507.4 128.8,505.8 129.5,503.7 130.2,501.9 131.0,500.0"/>
<polyline stroke-width="1.71" points="131.0,500.0 131.8,497.5 132.5,495.0 133.2,492.4 134.0,489.9 134.8,486.9 135.5,483.7 136.2,479.8 137.0,475.5"/>
<polyline stroke-width="1.70" points="137.0,475.5 137.8,470.8 138.5,466.6 139.2,462.8 140.0,459.8 140.8,456.1 141.5,452.7 142.2,448.9 143.0,445.2"/>
<polyline stroke-width="1.70" points="143.0,445.2 143.8,441.7 144.5,437.9 145.2,433.9 146.0,430.1 146.8,426.5 147.5,422.3 148.2,418.3 149.0,414.1"/>
<polyline stroke-width="1.70" points="149.0,414.1 149.8,409.9 150.5,406.0 151.2,401.6 152.0,397.2 152.8,393.0 153.5,388.5 154.2,384.2 155.0,379.9"/>
<polyline stroke-width="1.70" points="155.0,379.9 155.8,375.1 156.5,370.9 157.2,366.0 158.0,361.4 158.8,356.6 159.5,352.0 160.2,347.3 161.0,342.4"/>
<polyline stroke-width="1.70" points="161.0,342.4 161.8,337.6 162.5,332.8 163.2,327.9 164.0,322.9 164.8,318.2 165.5,313.4 166.2,308.6 167.0,303.7"/>
<polyline stroke-width="1.70" points="167.0,303.7 167.8,299.0 168.5,293.8 169.2,288.8 170.0,284.2 170.8,278.9 171.5,274.4 172.2,269.2 173.0,264.6"/>
<polyline stroke-width="1.70" points="173.0,264.6 173.8,259.5 174.5,255.1 175.2,250.2 176.0,245.4 176.8,241.1 177.5,236.3 178.2,231.6 179.0,226.9"/>
<polyline stroke-width="1.70" points="179.0,226.9 179.8,222.5 180.5,218.0 181.2,213.7 182.0,209.3 182.8,204.8 183.5,200.5 184.2,196.2 185.0,191.9"/>
<polyline stroke-width="1.70" points="185.0,191.9 185.8,187.8 186.5,183.8 187.2,179.8 188.0,175.9 188.8,171.5 189.5,167.8 190.2,163.7 191.0,160.3"/>
<polyline stroke-width="1.70" points="191.0,160.3 191.8,156.1 192.5,152.5 193.2,148.6 194.0,145.0 194.8,141.6 195.5,138.0 196.2,134.8 197.0,131.3"/>
<polyline stroke-width="1.70" points="197.0,131.3 197.8,128.5 198.5,125.2 199.2,122.8 200.0,120.2 200.8,118.3 201.5,116.1 202.2,114.9 203.0,113.5"/>
<polyline stroke-width="1.70" points="203.0,113.5 203.8,112.5 204.5,111.7 205.2,110.9 206.0,110.4 206.8,110.1 207.5,109.8 208.2,109.4 209.0,108.9"/>
<polyline stroke-width="1.70" points="209.0,108.9 209.8,108.8 210.5,108.7 211.2,108.4 212.0,108.9 212.8,109.0 213.5,109.4 214.2,110.2 215.0,110.8"/>
<polyline stroke-width="1.70" points="215.0,110.8 215.8,111.4 216.5,112.2 217.2,113.5 218.0,114.6 218.8,115.5 219.5,117.1 220.2,118.3 221.0,119.5"/>
<polyline stroke-width="1.70" points="221.0,119.5 221.8,121.9 222.5,124.1 223.2,126.8 224.0,128.9 224.8,130.7 225.5,132.7 226.2,134.8 227.0,136.7"/>
<polyline stroke-width="1.70" points="227.0,136.7 227.8,138.9 228.5,140.7 229.2,142.5 230.0,144.5 230.8,146.0 231.5,148.3 232.2,150.3 233.0,152.1"/>
<polyline stroke-width="1.70" points="233.0,152.1 233.8,154.0 234.5,156.2 235.2,158.4 236.0,160.0 236.8,161.8 237.5,164.1 238.2,165.4 239.0,167.6"/>
<polyline stroke-width="1.70" points="239.0,167.6 239.8,169.2 240.5,171.1 241.2,172.5 242.0,174.6 242.8,176.3 243.5,178.0 244.2,180.2 245.0,182.9"/>
<polyline stroke-width="1.70" points="245.0,182.9 245.8,185.7 246.5,188.1 247.2,191.0 248.0,194.0 248.8,197.1 249.5,200.2 250.2,203.3 251.0,205.8"/>
<polyline stroke-width="1.70" points="251.0,205.8 251.8,208.3 252.5,210.3 253.2,211.7 254.0,214.0 254.8,215.4 255.5,217.0 256.2,218.6 257.0,220.9"/>
<polyline stroke-width="1.70" points="257.0,220.9 257.8,222.8 258.5,224.6 259.2,226.3 260.0,228.7 260.8,230.4 261.5,232.4 262.2,234.8 263.0,236.7"/>
<polyline stroke-width="1.70" points="263.0,236.7 263.8,238.6 264.5,240.4 265.2,242.5 266.0,244.1 266.8,246.4 267.5,248.2 268.2,250.1 269.0,252.0"/>
<polyline stroke-width="1.70" points="269.0,252.0 269.8,254.3 270.5,256.1 271.2,258.1 272.0,260.1 272.8,261.8 273.5,263.7 274.2,265.5 275.0,267.7"/>
<polyline stroke-width="1.70" points="275.0,267.7 275.8,269.7 276.5,271.5 277.2,273.5 278.0,275.2 278.8,277.2 279.5,279.1 280.2,280.9 281.0,283.2"/>
<polyline stroke-width="1.70" points="281.0,283.2 281.8,285.0 282.5,286.6 283.2,288.5 284.0,290.5 284.8,292.2 285.5,294.3 286.2,295.9 287.0,298.0"/>
<polyline stroke-width="1.70" points="287.0,298.0 287.8,299.7 288.5,301.7 289.2,303.4 290.0,305.2 290.8,307.2 291.5,309.1 292.2,311.0 293.0,312.9"/>
<polyline stroke-width="1.70" points="293.0,312.9 293.8,314.9 294.5,316.6 295.2,318.3 296.0,320.3 296.8,321.9 297.5,324.1 298.2,325.7 299.0,327.3"/>
<polyline stroke-width="1.70" points="299.0,327.3 299.8,329.4 300.5,331.2 301.2,332.5 302.0,334.6 302.8,336.5 303.5,338.0 304.2,340.0 305.0,341.8"/>
<polyline stroke-width="1.70" points="305.0,341.8 305.8,343.8 306.5,345.6 307.2,347.7 308.0,349.1 308.8,351.1 309.5,352.7 310.2,354.5 311.0,356.1"/>
<polyline stroke-width="1.70" points="311.0,356.1 311.8,357.8 312.5,359.8 313.2,361.8 314.0,363.7 314.8,365.3 315.5,367.0 316.2,368.6 317.0,370.7"/>
<polyline stroke-width="1.70" points="317.0,370.7 317.8,372.4 318.5,373.8 319.2,375.6 320.0,377.2 320.8,379.2 321.5,380.8 322.2,382.4 323.0,384.2"/>
<polyline stroke-width="1.70" points="323.0,384.2 323.8,385.9 324.5,387.5 325.2,389.1 326.0,390.9 326.8,392.6 327.5,394.8 328.2,396.9 329.0,398.2"/>
<polyline stroke-width="1.72" points="329.0,398.2 329.8,400.4 330.5,402.3 331.2,403.9 332.0,405.9 332.8,407.5 333.5,409.6 334.2,410.9 335.0,412.5"/>
<polyline stroke-width="1.78" points="335.0,412.5 335.8,414.0 336.5,415.2 337.2,416.3 338.0,417.7 338.8,419.2 339.5,420.2 340.2,421.5 341.0,422.4"/>
<polyline stroke-width="1.84" points="341.0,422.4 341.8,423.9 342.5,425.3 343.2,426.4 344.0,428.1 344.8,429.0 345.5,430.2 346.2,431.4 347.0,433.3"/>
<polyline stroke-width="1.90" points="347.0,433.3 347.8,434.3 348.5,435.8 349.2,436.8 350.0,438.3 350.8,439.3 351.5,440.1 352.2,441.3 353.0,442.6"/>
<polyline stroke-width="1.96" points="353.0,442.6 353.8,443.0 354.5,444.6 355.2,445.5 356.0,446.3 356.8,446.8 357.5,447.7 358.2,448.2 359.0,449.3"/>
<polyline stroke-width="2.02" points="359.0,449.3 359.8,449.9 360.5,450.9 361.2,451.6 362.0,452.7 362.8,453.8 363.5,454.0 364.2,455.5 365.0,455.5"/>
<polyline stroke-width="2.08" points="365.0,455.5 365.8,456.3 366.5,457.8 367.2,458.6 368.0,459.6 368.8,459.7 369.5,461.0 370.2,461.8 371.0,462.9"/>
<polyline stroke-width="2.14" points="371.0,462.9 371.8,463.2 372.5,464.1 373.2,464.2 374.0,465.1 374.8,465.5 375.5,466.5 376.2,466.4 377.0,467.0"/>
<polyline stroke-width="2.20" points="377.0,467.0 377.8,468.0 378.5,469.0 379.2,469.0 380.0,469.6 380.8,470.0 381.5,471.1 382.2,471.5 383.0,472.6"/>
<polyline stroke-width="2.26" points="383.0,472.6 383.8,472.7 384.5,473.0 385.2,473.8 386.0,474.4 386.8,475.2 387.5,477.0 388.2,478.0 389.0,478.3"/>
<polyline stroke-width="2.32" points="389.0,478.3 389.8,480.3 390.5,480.4 391.2,480.6 392.0,481.7 392.8,482.0 393.5,482.3 394.2,482.3 395.0,483.5"/>
<polyline stroke-width="2.38" points="395.0,483.5 395.8,484.0 396.5,483.4 397.2,484.9 398.0,485.3 398.8,485.3 399.5,485.9 400.2,486.1 401.0,486.3"/>
<polyline stroke-width="2.41" points="401.0,486.3 401.8,486.9 402.5,488.0 403.2,487.4 404.0,488.5 404.8,489.0 405.5,489.2 406.2,489.8 407.0,489.9"/>
<polyline stroke-width="2.41" points="407.0,489.9 407.8,490.6 408.5,491.5 409.2,492.1 410.0,492.2 410.8,494.1 411.5,493.3 412.2,494.1 413.0,494.4"/>
<polyline stroke-width="2.42" points="413.0,494.4 413.8,494.8 414.5,495.9 415.2,495.7 416.0,496.8 416.8,497.1 417.5,496.7 418.2,497.9 419.0,497.6"/>
<polyline stroke-width="2.43" points="419.0,497.6 419.8,499.2 420.5,498.4 421.2,498.5 422.0,498.5 422.8,499.1 423.5,499.7 424.2,499.8 425.0,500.0"/>
<polyline stroke-width="2.44" points="425.0,500.0 425.8,500.5 426.5,501.0 427.2,501.9 428.0,500.9 428.8,501.6 429.5,501.6 430.2,501.6 431.0,501.9"/>
<polyline stroke-width="2.45" points="431.0,501.9 431.8,502.2 432.5,503.0 433.2,502.9 434.0,502.9 434.8,503.5 435.5,503.6 436.2,503.5 437.0,503.9"/>
<polyline stroke-width="2.46" points="437.0,503.9 437.8,503.6 438.5,504.3 439.2,504.3 440.0,504.1 440.8,503.8 441.5,504.9 442.2,504.4 443.0,505.6"/>
<polyline stroke-width="2.47" points="443.0,505.6 443.8,504.1 444.5,504.6 445.2,504.1 446.0,504.2 446.8,504.3 447.5,503.5 448.2,503.6 449.0,503.5"/>
<polyline stroke-width="2.47" points="449.0,503.5 449.8,503.3 450.5,503.2 451.2,503.1 452.0,502.8 452.8,502.4 453.5,501.9 454.2,501.3 455.0,501.2"/>
<polyline stroke-width="2.48" points="455.0,501.2 455.8,501.1 456.5,501.3 457.2,500.6 458.0,499.9 458.8,500.3 459.5,499.4 460.2,499.1 461.0,498.9"/>
<polyline stroke-width="2.49" points="461.0,498.9 461.8,498.8 462.5,497.3 463.2,497.4 464.0,497.5 464.8,497.0 465.5,496.4 466.2,496.2 467.0,496.6"/>
<polyline stroke-width="2.50" points="467.0,496.6 467.8,495.6 468.5,495.7 469.2,495.5 470.0,494.7 470.8,494.7 471.5,494.1 472.2,493.7 473.0,493.2"/>
<polyline stroke-width="2.51" points="473.0,493.2 473.8,493.7 474.5,492.9 475.2,492.6 476.0,492.1 476.8,493.0 477.5,492.4 478.2,491.8 479.0,491.4"/>
<polyline stroke-width="2.52" points="479.0,491.4 479.8,490.9 480.5,491.5 481.2,491.4 482.0,490.6 482.8,491.5 483.5,491.2 484.2,490.4 485.0,490.5"/>
<polyline stroke-width="2.53" points="485.0,490.5 485.8,490.4 486.5,490.6 487.2,490.4 488.0,489.7 488.8,490.9 489.5,490.4 490.2,490.7 491.0,490.7"/>
<polyline stroke-width="2.53" points="491.0,490.7 491.8,490.1 492.5,490.3 493.2,490.5 494.0,490.6 494.8,490.2 495.5,490.1 496.2,490.4 497.0,490.1"/>
<polyline stroke-width="2.54" points="497.0,490.1 497.8,490.3 498.5,489.8 499.2,490.8 500.0,490.4 500.8,490.7 501.5,491.0 502.2,491.2 503.0,491.9"/>
<polyline stroke-width="2.55" points="503.0,491.9 503.8,491.3 504.5,490.7 505.2,491.4 506.0,491.2 506.8,491.7 507.5,491.3 508.2,491.3 509.0,491.5"/>
<polyline stroke-width="2.56" points="509.0,491.5 509.8,491.5 510.5,491.0 511.2,491.6 512.0,491.9 512.8,492.5 513.5,491.9 514.2,492.0 515.0,492.4"/>
<polyline stroke-width="2.57" points="515.0,492.4 515.8,492.5 516.5,493.0 517.2,492.7 518.0,492.5 518.8,493.2 519.5,493.4 520.2,492.7 521.0,493.1"/>
<polyline stroke-width="2.58" points="521.0,493.1 521.8,492.5 522.5,493.3 523.2,493.3 524.0,493.8 524.8,493.9 525.5,494.3 526.2,494.6 527.0,495.1"/>
<polyline stroke-width="2.59" points="527.0,495.1 527.8,495.3 528.5,495.2 529.2,495.1 530.0,496.5 530.8,496.8 531.5,496.2 532.2,496.9 533.0,496.2"/>
<polyline stroke-width="2.59" points="533.0,496.2 533.8,496.5 534.5,497.3 535.2,498.3 536.0,497.5 536.8,497.9 537.5,499.3 538.2,498.1 539.0,499.6"/>
<polyline stroke-width="2.63" points="539.0,499.6 539.8,500.0 540.5,500.2 541.2,500.9 542.0,502.5 542.8,501.4 543.5,502.3 544.2,502.9 545.0,503.2"/>
<polyline stroke-width="2.71" points="545.0,503.2 545.8,503.5 546.5,505.3 547.2,505.3 548.0,504.9 548.8,505.8 549.5,506.7 550.2,507.1 551.0,506.6"/>
<polyline stroke-width="2.79" points="551.0,506.6 551.8,507.6 552.5,508.1 553.2,508.5 554.0,508.9 554.8,508.2 555.5,510.3 556.2,509.9 557.0,511.0"/>
<polyline stroke-width="2.87" points="557.0,511.0 557.8,511.9 558.5,511.0 559.2,511.1 560.0,512.5 560.8,512.7 561.5,513.2 562.2,513.8 563.0,515.9"/>
<polyline stroke-width="2.95" points="563.0,515.9 563.8,516.0 564.5,516.6 565.2,518.1 566.0,519.0 566.8,520.7 567.5,521.5 568.2,522.3 569.0,524.1"/>
<polyline stroke-width="3.00" points="569.0,524.1 569.8,524.5 570.5,526.2 571.2,527.5 572.0,527.8 572.8,528.7 573.5,530.2 574.2,531.6 575.0,532.3"/>
<polyline stroke-width="3.00" points="575.0,532.3 575.8,533.5 576.5,534.5 577.2,535.8 578.0,537.2 578.8,537.7 579.5,539.1 580.2,540.6 581.0,541.5"/>
<polyline stroke-width="3.00" points="581.0,541.5 581.8,543.1 582.5,544.6 583.2,545.6 584.0,546.6 584.8,547.7 585.5,550.1 586.2,550.9 587.0,551.2"/>
<polyline stroke-width="3.00" points="587.0,551.2 587.8,552.5 588.5,555.0 589.2,556.0 590.0,556.6 590.8,558.2 591.5,558.2 592.2,560.0 593.0,561.5"/>
<polyline stroke-width="3.00" points="593.0,561.5 593.8,561.5 594.5,563.1 595.2,565.1 596.0,566.4 596.8,566.7 597.5,568.3 598.2,570.0 599.0,570.1"/>
<polyline stroke-width="3.00" points="599.0,570.1 599.8,570.6 600.5,572.2 601.2,573.0 602.0,574.7 602.8,575.1 603.5,575.5 604.2,577.9 605.0,577.4"/>
<polyline stroke-width="3.00" points="605.0,577.4 605.8,578.7 606.5,579.6 607.2,580.4 608.0,580.9 608.8,581.9 609.5,582.3 610.2,582.4 611.0,583.6"/>
<polyline stroke-width="3.00" points="611.0,583.6 611.8,584.3 612.5,585.0 613.2,585.9 614.0,586.2 614.8,587.8 615.5,588.5 616.2,587.3 617.0,589.0"/>
<polyline stroke-width="3.00" points="617.0,589.0 617.8,589.3 618.5,588.9 619.2,590.9 620.0,591.0 620.8,591.6 621.5,592.0 622.2,593.3 623.0,593.8"/>
<polyline stroke-width="3.00" points="623.0,593.8 623.8,593.8 624.5,594.4 625.2,594.4 626.0,595.0 626.8,594.9 627.5,595.6 628.2,595.6 629.0,596.5"/>
<polyline stroke-width="3.00" points="629.0,596.5 629.8,597.1 630.5,597.2 631.2,597.9 632.0,599.0 632.8,597.0 633.5,598.4 634.2,598.5 635.0,598.9"/>
<polyline stroke-width="3.00" points="635.0,598.9 635.8,598.8 636.5,599.9 637.2,600.1 638.0,600.3 638.8,600.9 639.5,601.1 640.2,600.6 641.0,602.7"/>
<polyline stroke-width="3.00" points="641.0,602.7 641.8,602.4 642.5,602.4 643.2,603.4 644.0,603.3 644.8,603.0 645.5,604.9 646.2,604.0 647.0,605.1"/>
<polyline stroke-width="3.00" points="647.0,605.1 647.8,605.6 648.5,606.6 649.2,606.9 650.0,606.8 650.8,606.7 651.5,607.3 652.2,608.4 653.0,609.2"/>
<polyline stroke-width="3.00" points="653.0,609.2 653.8,608.9 654.5,608.7 655.2,609.9 656.0,609.6 656.8,609.9 657.5,610.3 658.2,611.0 659.0,611.1"/>
<polyline stroke-width="2.98" points="659.0,611.1 659.8,611.7 660.5,612.0 661.2,611.8 662.0,610.6 662.8,611.1 663.5,612.2 664.2,612.2 665.0,613.5"/>
<polyline stroke-width="2.90" points="665.0,613.5 665.8,612.6 666.5,612.6 667.2,613.3 668.0,613.5 668.8,613.0 669.5,613.4 670.2,612.7 671.0,612.9"/>
<polyline stroke-width="2.83" points="671.0,612.9 671.8,614.0 672.5,612.8 673.2,614.0 674.0,613.9 674.8,614.0 675.5,614.1 676.2,614.0 677.0,612.6"/>
<polyline stroke-width="2.75" points="677.0,612.6 677.8,613.2 678.5,613.5 679.2,614.3 680.0,613.3 680.8,613.5 681.5,613.7 682.2,614.6 683.0,613.2"/>
<polyline stroke-width="2.67" points="683.0,613.2 683.8,613.3 684.5,614.3 685.2,612.9 686.0,614.2 686.8,613.8 687.5,613.2 688.2,613.9 689.0,613.6"/>
<polyline stroke-width="2.60" points="689.0,613.6 689.8,614.2 690.5,614.3 691.2,614.9 692.0,614.1 692.8,614.2 693.5,613.9 694.2,614.2 695.0,614.8"/>
<polyline stroke-width="2.52" points="695.0,614.8 695.8,613.3 696.5,614.6 697.2,614.0 698.0,614.3 698.8,614.5 699.5,614.8 700.2,614.5 701.0,614.2"/>
<polyline stroke-width="2.49" points="701.0,614.2 701.8,614.6 702.5,614.5 703.2,614.4 704.0,614.6 704.8,615.0 705.5,614.6 706.2,614.7 707.0,614.0"/>
<polyline stroke-width="2.48" points="707.0,614.0 707.8,614.6 708.5,613.7 709.2,615.1 710.0,614.3 710.8,615.4 711.5,616.3 712.2,614.6 713.0,615.5"/>
<polyline stroke-width="2.47" points="713.0,615.5 713.8,615.1 714.5,614.6 715.2,614.5 716.0,615.2 716.8,615.6 717.5,615.1 718.2,614.2 719.0,614.4"/>
<polyline stroke-width="2.46" points="719.0,614.4 719.8,614.9 720.5,615.7 721.2,615.1 722.0,615.2 722.8,615.6 723.5,614.9 724.2,615.0 725.0,614.9"/>
<polyline stroke-width="2.44" points="725.0,614.9 725.8,614.1 726.5,615.2 727.2,615.2 728.0,615.5 728.8,614.4 729.5,614.5 730.2,615.4 731.0,615.1"/>
<polyline stroke-width="2.43" points="731.0,615.1 731.8,615.6 732.5,614.5 733.2,615.0 734.0,614.6 734.8,615.1 735.5,614.7 736.2,615.2 737.0,615.4"/>
<polyline stroke-width="2.42" points="737.0,615.4 737.8,615.2 738.5,613.9 739.2,615.3 740.0,615.1 740.8,614.3 741.5,614.4 742.2,614.8 743.0,615.1"/>
<polyline stroke-width="2.41" points="743.0,615.1 743.8,614.6 744.5,614.0 745.2,615.0 746.0,614.9 746.8,616.1 747.5,614.1 748.2,616.1 749.0,615.7"/>
<polyline stroke-width="2.40" points="749.0,615.7 749.8,615.0 750.5,615.7 751.2,614.9 752.0,615.4 752.8,614.5 753.5,614.9 754.2,614.4 755.0,614.1"/>
<polyline stroke-width="2.38" points="755.0,614.1 755.8,614.8 756.5,614.6 757.2,615.3 758.0,615.7 758.8,615.0 759.5,615.1 760.2,615.2 761.0,614.3"/>
<polyline stroke-width="2.37" points="761.0,614.3 761.8,615.3 762.5,615.2 763.2,615.2 764.0,614.7 764.8,614.3 765.5,615.2 766.2,615.5 767.0,616.1"/>
<polyline stroke-width="2.36" points="767.0,616.1 767.8,616.0 768.5,616.2 769.2,615.6 770.0,616.1 770.8,615.4 771.5,615.8 772.2,616.0 773.0,616.9"/>
<polyline stroke-width="2.35" points="773.0,616.9 773.8,615.6 774.5,614.8 775.2,616.2 776.0,615.1 776.8,615.5 777.5,615.3 778.2,615.0 779.0,616.2"/>
<polyline stroke-width="2.34" points="779.0,616.2 779.8,615.8 780.5,615.1 781.2,615.5 782.0,615.2 782.8,615.7 783.5,615.2 784.2,615.0 785.0,615.0"/>
<polyline stroke-width="2.32" points="785.0,615.0 785.8,615.1 786.5,615.5 787.2,614.9 788.0,615.3 788.8,615.6 789.5,616.5 790.2,615.8 791.0,613.8"/>
<polyline stroke-width="2.31" points="791.0,613.8 791.8,615.0 792.5,615.1 793.2,615.5 794.0,616.2 794.8,615.9 795.5,614.5 796.2,616.1 797.0,616.3"/>
<polyline stroke-width="2.30" points="797.0,616.3 797.8,616.7 798.5,617.5 799.2,616.6 800.0,618.0 800.8,616.9 801.5,618.0 802.2,618.4 803.0,619.5"/>
<polyline stroke-width="2.30" points="803.0,619.5 803.8,618.0 804.5,617.5 805.2,618.7 806.0,618.0 806.8,619.1 807.5,617.9 808.2,617.7 809.0,618.7"/>
<polyline stroke-width="2.29" points="809.0,618.7 809.8,618.0 810.5,618.4 811.2,617.1 812.0,618.6 812.8,617.4 813.5,618.0 814.2,617.0 815.0,616.7"/>
<polyline stroke-width="2.29" points="815.0,616.7 815.8,617.4 816.5,617.6 817.2,618.3 818.0,617.6 818.8,617.8 819.5,617.8 820.2,619.1 821.0,617.0"/>
<polyline stroke-width="2.29" points="821.0,617.0 821.8,618.1 822.5,617.3 823.2,617.5 824.0,616.9 824.8,617.7 825.5,616.1 826.2,615.8 827.0,616.1"/>
<polyline stroke-width="2.28" points="827.0,616.1 827.8,615.3 828.5,616.0 829.2,615.8 830.0,614.7 830.8,615.2 831.5,614.3 832.2,614.5 833.0,614.4"/>
<polyline stroke-width="2.28" points="833.0,614.4 833.8,615.4 834.5,614.3 835.2,613.8 836.0,613.7 836.8,614.8 837.5,613.2 838.2,613.8 839.0,613.8"/>
<polyline stroke-width="2.28" points="839.0,613.8 839.8,612.6 840.5,613.6 841.2,614.4 842.0,613.9 842.8,613.3 843.5,614.1 844.2,614.0 845.0,614.7"/>
<polyline stroke-width="2.27" points="845.0,614.7 845.8,613.2 846.5,613.4 847.2,613.6 848.0,613.5 848.8,613.5 849.5,613.4 850.2,613.1 851.0,612.6"/>
<polyline stroke-width="2.27" points="851.0,612.6 851.8,613.1 852.5,612.6 853.2,612.8 854.0,613.0 854.8,613.6 855.5,613.7 856.2,612.7 857.0,613.4"/>
<polyline stroke-width="2.27" points="857.0,613.4 857.8,613.6 858.5,613.2 859.2,612.3 860.0,612.0 860.8,613.5 861.5,613.6 862.2,613.2 863.0,612.5"/>
<polyline stroke-width="2.26" points="863.0,612.5 863.8,613.8 864.5,613.7 865.2,613.0 866.0,612.8 866.8,611.9 867.5,613.3 868.2,612.0 869.0,613.2"/>
<polyline stroke-width="2.26" points="869.0,613.2 869.8,613.2 870.5,612.9 871.2,613.6 872.0,612.6 872.8,613.1 873.5,613.2 874.2,612.9 875.0,612.5"/>
<polyline stroke-width="2.26" points="875.0,612.5 875.8,613.3 876.5,612.9 877.2,612.5 878.0,612.5 878.8,612.7 879.5,613.8 880.2,612.6 881.0,612.4"/>
<polyline stroke-width="2.25" points="881.0,612.4 881.8,612.0 882.5,611.9 883.2,611.5 884.0,612.6 884.8,612.5 885.5,611.9 886.2,611.7 887.0,612.3"/>
<polyline stroke-width="2.25" points="887.0,612.3 887.8,612.1 888.5,611.7 889.2,612.6 890.0,612.5 890.8,612.4 891.5,612.8 892.2,612.0 893.0,613.1"/>
<polyline stroke-width="2.25" points="893.0,613.1 893.8,611.8 894.5,612.7 895.2,612.7 896.0,612.2 896.8,612.6 897.5,611.7 898.2,611.6 899.0,612.3"/>
<polyline stroke-width="2.24" points="899.0,612.3 899.8,612.0 900.5,612.7 901.2,612.4 902.0,612.7 902.8,612.6 903.5,612.5 904.2,612.4 905.0,612.2"/>
<polyline stroke-width="2.24" points="905.0,612.2 905.8,612.1 906.5,613.5 907.2,611.4 908.0,612.3 908.8,612.9 909.5,612.6 910.2,613.1 911.0,612.7"/>
<polyline stroke-width="2.24" points="911.0,612.7 911.8,611.7 912.5,612.2 913.2,611.6 914.0,612.9 914.8,613.2 915.5,612.1 916.2,612.7 917.0,612.2"/>
<polyline stroke-width="2.23" points="917.0,612.2 917.8,611.6 918.5,612.1 919.2,611.5 920.0,612.1 920.8,612.5 921.5,612.8 922.2,613.1 923.0,612.2"/>
<polyline stroke-width="2.23" points="923.0,612.2 923.8,612.5 924.5,612.6 925.2,612.7 926.0,610.8 926.8,612.0 927.5,612.8 928.2,611.8 929.0,612.5"/>
<polyline stroke-width="2.23" points="929.0,612.5 929.8,612.8 930.5,611.3 931.2,612.2 932.0,612.4 932.8,612.2 933.5,611.4 934.2,612.4 935.0,611.8"/>
<polyline stroke-width="2.22" points="935.0,611.8 935.8,612.5 936.5,612.3 937.2,611.7 938.0,612.0 938.8,611.5 939.5,611.4 940.2,610.9 941.0,611.5"/>
<polyline stroke-width="2.22" points="941.0,611.5 941.8,612.0 942.5,611.6 943.2,611.4 944.0,611.0 944.8,611.0 945.5,611.6 946.2,610.3 947.0,612.2"/>
<polyline stroke-width="2.21" points="947.0,612.2 947.8,611.0 948.5,612.1 949.2,611.5 950.0,610.5 950.8,611.1 951.5,610.8 952.2,610.8 953.0,610.9"/>
<polyline stroke-width="2.21" points="953.0,610.9 953.8,610.1 954.5,610.0 955.2,610.0 956.0,609.5 956.8,610.0 957.5,610.2 958.2,610.2 959.0,610.1"/>
<polyline stroke-width="2.21" points="959.0,610.1 959.8,609.7 960.5,610.3 961.2,608.6 962.0,609.5 962.8,609.5 963.5,610.1 964.2,609.9 965.0,609.9"/>
<polyline stroke-width="2.20" points="965.0,609.9 965.8,609.4 966.5,609.8 967.2,608.7 968.0,609.2 968.8,607.9 969.5,610.0 970.2,609.8 971.0,608.6"/>
<polyline stroke-width="2.20" points="971.0,608.6 971.8,608.3 972.5,607.6 973.2,607.8 974.0,608.7 974.8,608.4 975.5,607.7 976.0,608.1"/>
</g>
</g>
<g fill="#000">
<rect x="85" y="23.2" width="893.5" height="2.6"/>
<rect x="85" y="639.9" width="893.5" height="2.7"/>
<rect x="85" y="23.2" width="2.2" height="619.4"/>
<rect x="976.3" y="23.2" width="2.2" height="619.4"/>
<rect x="974.4" y="199" width="4.1" height="278.7"/>
<rect x="110.0" y="637.8" width="3" height="11.5" rx="1"/>
<rect x="246.0" y="637.8" width="3" height="11.5" rx="1"/>
<rect x="382.0" y="637.8" width="3" height="11.5" rx="1"/>
<rect x="518.0" y="637.8" width="3" height="11.5" rx="1"/>
<rect x="654.0" y="637.8" width="3" height="11.5" rx="1"/>
<rect x="790.0" y="637.8" width="3" height="11.5" rx="1"/>
<rect x="926.0" y="637.8" width="3" height="11.5" rx="1"/>
</g>
<g class="ax" font-size="34" text-anchor="middle">
<text transform="translate(121.3 695) scale(0.985 1.025)">50</text>
<text transform="translate(247.5 695) scale(0.985 1.025)">150</text>
<text transform="translate(391.4 695) scale(0.985 1.025)">250</text>
<text transform="translate(521.2 695) scale(0.985 1.025)">350</text>
<text transform="translate(649.1 695) scale(0.985 1.025)">450</text>
<text transform="translate(795.2 695) scale(0.985 1.025)">550</text>
<text transform="translate(923.2 695) scale(0.985 1.025)">650</text>
</g>
<text class="ax" font-size="41" text-anchor="middle" transform="translate(537.3 764.2) scale(0.995 1.025)">Temperature (°C)</text>
<text class="ax" font-size="41" text-anchor="middle" transform="translate(44.6 331.1) rotate(-90) scale(0.989 1.05)">H<tspan font-size="27" dy="6">2</tspan><tspan dy="-6"> consumption (a.u)</tspan></text>
<text class="lb" fill="#7030a0"><tspan x="251.50" y="146.20" font-size="35.80" textLength="35.83" lengthAdjust="spacingAndGlyphs">Fe</tspan><tspan x="288.16" y="154.00" font-size="21.43" textLength="30.44" lengthAdjust="spacingAndGlyphs" class="sb">1.2</tspan><tspan x="318.37" y="146.20" font-size="35.80" textLength="44.51" lengthAdjust="spacingAndGlyphs">Au</tspan><tspan x="362.69" y="154.00" font-size="22.03" textLength="9.72" lengthAdjust="spacingAndGlyphs" class="sb">1</tspan><tspan x="376.18" y="146.20" font-size="35.86" textLength="49.13" lengthAdjust="spacingAndGlyphs">-Ce</tspan></text>
<text class="lb" fill="#ff0000"><tspan x="561.03" y="165.70" font-size="33.48" textLength="37.15" lengthAdjust="spacingAndGlyphs">Fe</tspan><tspan x="600.35" y="173.70" font-size="21.43" textLength="28.79" lengthAdjust="spacingAndGlyphs" class="sb">1.2</tspan><tspan x="630.06" y="165.70" font-size="33.57" textLength="49.97" lengthAdjust="spacingAndGlyphs">-Ce</tspan></text>
<text class="lb" fill="#92d050" stroke="#92d050" stroke-width="1.1" style="font-weight:normal"><tspan x="651.54" y="249.60" font-size="30.86" textLength="18.20" lengthAdjust="spacingAndGlyphs">C</tspan><tspan x="672.04" y="249.60" font-size="29.63" textLength="16.09" lengthAdjust="spacingAndGlyphs">e</tspan><tspan x="690.64" y="249.60" font-size="30.86" textLength="27.02" lengthAdjust="spacingAndGlyphs">O</tspan><tspan x="718.76" y="261.30" font-size="26.43" textLength="11.61" lengthAdjust="spacingAndGlyphs">2</tspan></text>
</svg>
</body>
</html>
